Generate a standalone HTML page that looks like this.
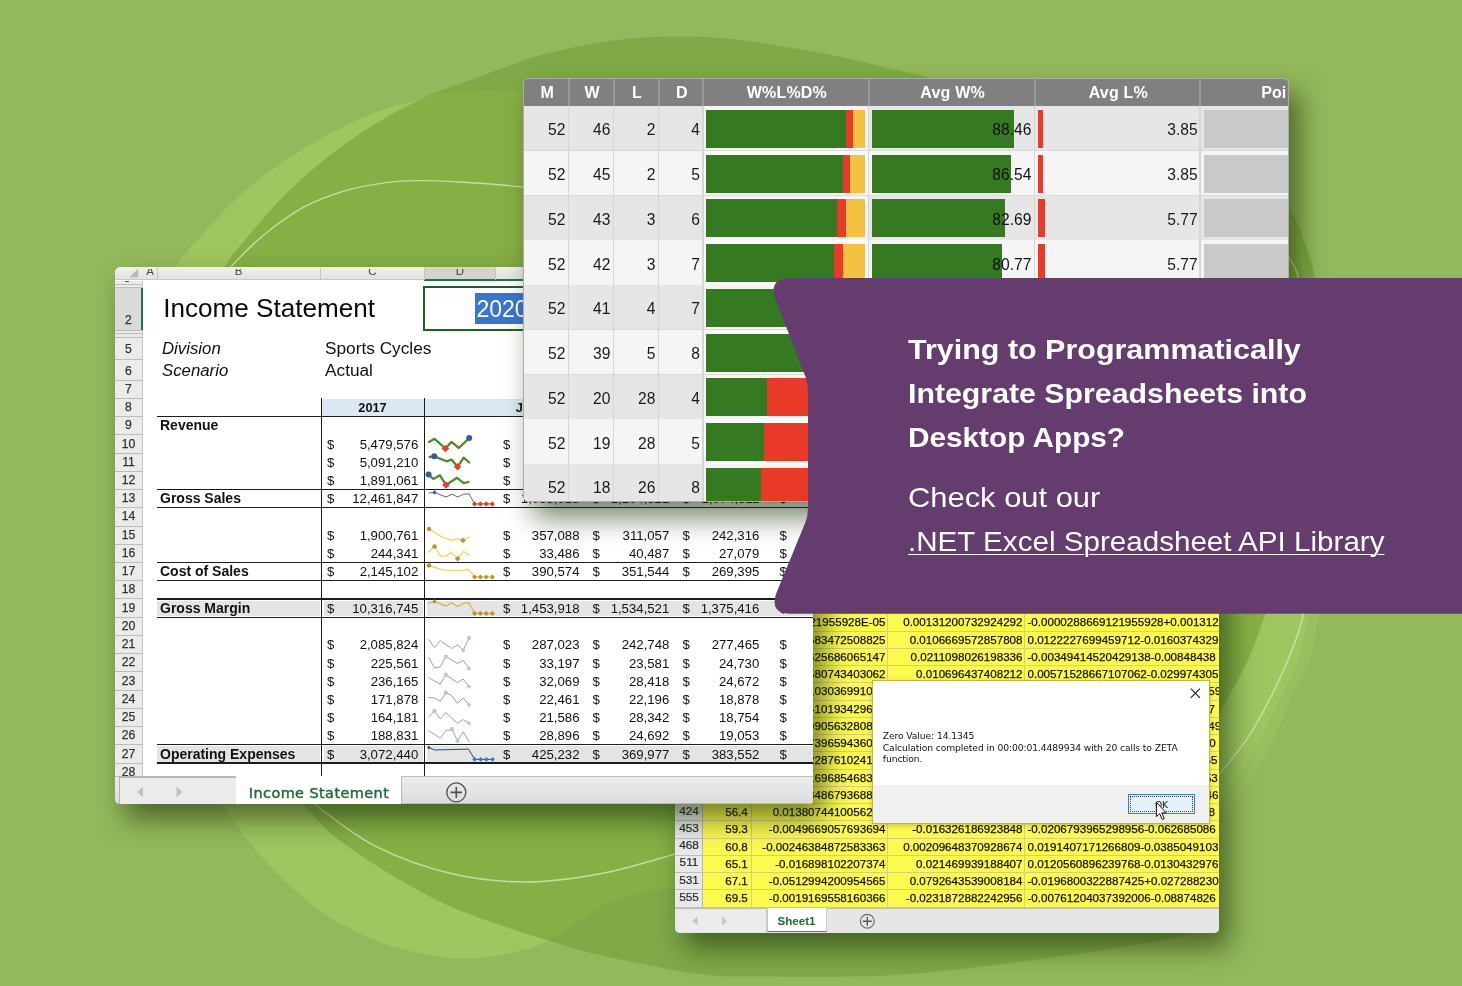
<!DOCTYPE html><html lang="en"><head><meta charset="utf-8"><title>Spreadsheet API promo</title><style>
*{box-sizing:border-box;margin:0;padding:0}
html,body{width:1462px;height:986px;overflow:hidden;background:#94b95c}
body{position:relative;font-family:"Liberation Sans",sans-serif;color:#000}
.abs{position:absolute}
.win{position:absolute;overflow:hidden}
.page{position:absolute;width:1462px;height:986px}
.sh{position:absolute;border-radius:5px;box-shadow:10px 15px 28px 0 rgba(25,45,5,.6)}
.t{position:absolute;white-space:nowrap;line-height:1}
.r{text-align:right}
.c{text-align:center}
.b{font-weight:bold}
.i{font-style:italic}
.hl{position:absolute;background:#1c1c1c;height:1.25px}
.vl{position:absolute;background:#1c1c1c;width:1.25px}
</style></head><body>
<svg class="abs" style="left:0;top:0" width="1462" height="986" viewBox="0 0 1462 986">
<rect width="1462" height="986" fill="#94b95c"/>
<defs><clipPath id="cE"><path d="M304,805 C299.2,799.2 285.7,787.5 275,770 C264.3,752.5 252.5,728.3 240,700 C227.5,671.7 209.5,633.3 200,600 C190.5,566.7 185.5,533.3 183,500 C180.5,466.7 182.2,430.0 185,400 C187.8,370.0 193.2,342.4 200,320 C206.8,297.6 218.7,278.4 225.7,265.7 C232.7,253.0 235.8,251.7 242,244 C248.2,236.3 255.8,227.3 262.6,219.5 C269.4,211.7 276.2,204.0 283,197 C289.8,190.0 296.7,183.7 303.6,177.5 C310.5,171.3 317.4,165.5 324.2,160 C331.0,154.5 337.9,149.5 344.7,144.6 C351.5,139.7 358.4,134.7 365.2,130.3 C372.0,125.9 378.9,121.9 385.7,118 C392.5,114.1 399.3,110.3 406.2,106.7 C413.1,103.1 419.9,99.5 426.8,96.4 C433.7,93.3 439.1,91.3 447.3,88.2 C455.5,85.1 465.6,81.8 476,78 C486.4,74.2 498.5,69.5 510,65.5 C521.5,61.5 530.0,57.8 545,54 C560.0,50.2 581.8,45.3 600,42.5 C618.2,39.7 632.2,37.6 654,37 C675.8,36.4 701.5,36.0 731,39 C760.5,42.0 803.5,49.8 831,55 C858.5,60.2 879.3,66.2 896,70 C912.7,73.8 897.0,69.7 931,78 C965.0,86.3 1055.2,106.8 1100,120 C1144.8,133.2 1173.3,145.5 1200,157 C1226.7,168.5 1245.0,180.0 1260,189 C1275.0,198.0 1282.5,201.8 1290,211 C1297.5,220.2 1300.9,233.2 1305,244 C1309.1,254.8 1310.9,258.3 1314.7,276 C1318.5,293.7 1326.1,321.0 1328,350 C1329.9,379.0 1330.3,418.3 1326,450 C1321.7,481.7 1311.0,515.0 1302,540 C1293.0,565.0 1278.0,587.8 1272,600 C1266.0,612.2 1269.1,605.3 1265.8,613.4 C1262.5,621.5 1256.5,638.8 1252.4,648.7 C1248.3,658.6 1245.5,664.9 1241.4,673 C1237.3,681.1 1231.7,690.5 1228,697.4 C1224.3,704.3 1222.2,707.4 1219.5,714.5 C1216.8,721.6 1213.6,720.8 1212,740 C1210.4,759.2 1210.7,803.3 1210,830 C1209.3,856.7 1211.3,883.3 1208,900 C1204.7,916.7 1198.3,923.2 1190,930 C1181.7,936.8 1185.3,935.8 1158,941 C1130.7,946.2 1069.8,955.3 1026,961 C982.2,966.7 938.8,972.4 895,975 C851.2,977.6 795.5,976.7 763,976.5 C730.5,976.3 726.9,977.5 700,974 C673.1,970.5 626.7,961.1 601.5,955.5 C576.3,949.9 564.7,945.2 549,940.5 C533.3,935.8 523.7,932.9 507.4,927.3 C491.1,921.6 469.8,915.1 451,906.6 C432.2,898.1 413.3,887.8 394.5,876.5 C375.7,865.2 353.1,850.9 338,839 C322.9,827.1 309.7,810.7 304,805 Z"/></clipPath></defs>
<path d="M1330,560 C1328.2,568.9 1322.7,596.6 1319.3,613.4 C1315.9,630.2 1314.3,646.9 1309.6,660.9 C1304.9,674.9 1297.8,683.2 1291.3,697.4 C1284.8,711.6 1277.7,731.8 1270.6,746 C1263.5,760.2 1256.4,771.4 1248.7,782.7 C1241.0,794.0 1232.5,805.3 1224.4,814 C1216.3,822.7 1204.1,831.5 1200,835  L1200,600 L1300,560 Z" fill="#99bf5f"/>
<path d="M221.5,805 C217.1,798.3 205.2,782.5 195,765 C184.8,747.5 170.5,727.5 160,700 C149.5,672.5 137.8,636.7 132,600 C126.2,563.3 124.5,516.7 125,480 C125.5,443.3 130.5,408.3 135,380 C139.5,351.7 145.1,329.1 152,310 C158.9,290.9 168.2,278.0 176.4,265.7 C184.6,253.4 191.8,246.4 201,236 C210.2,225.6 221.5,212.9 231.8,203 C242.1,193.1 252.3,184.5 262.6,176.5 C272.9,168.5 283.1,161.7 293.4,155 C303.7,148.3 313.9,142.1 324.2,136.4 C334.5,130.7 344.8,125.6 355,121 C365.2,116.4 375.4,112.1 385.7,108.7 C395.9,105.3 409.5,102.5 416.5,100.5 C423.5,98.5 423.6,97.6 427.5,96.4 C431.4,95.2 431.2,94.0 440,93.2 C448.8,92.4 466.0,92.0 480,91.6 C494.0,91.2 454.0,90.9 524,91 C594.0,91.1 795.7,88.5 900,92 C1004.3,95.5 1091.7,98.7 1150,112 C1208.3,125.3 1226.2,153.9 1250,172 C1273.8,190.1 1283.3,203.2 1293,220.5 C1302.7,237.8 1303.6,254.4 1308.3,276 C1313.0,297.6 1318.7,321.0 1321,350 C1323.3,379.0 1323.0,415.0 1322,450 C1321.0,485.0 1317.3,532.8 1315,560 C1312.7,587.2 1311.3,596.6 1308.4,613.4 C1305.5,630.2 1302.1,646.9 1297.4,660.9 C1292.7,674.9 1287.3,683.2 1280.4,697.4 C1273.5,711.6 1263.3,732.2 1256,746 C1248.7,759.8 1242.4,770.7 1236.5,780 C1230.6,789.3 1228.5,792.8 1220.7,802 C1213.0,811.2 1226.8,823.7 1190,835 C1153.2,846.3 1065.0,862.5 1000,870 C935.0,877.5 854.5,876.9 800,880 C745.5,883.1 699.8,886.4 673,888.6 C646.2,890.9 650.9,890.5 639,893.5 C627.1,896.5 616.5,898.8 601.5,906.6 C586.5,914.4 564.7,932.7 549,940.5 C533.3,948.3 520.6,950.6 507.4,953.6 C494.2,956.6 482.6,958.2 470,958.5 C457.4,958.8 447.7,958.5 432,955.5 C416.3,952.5 394.8,948.1 376,940.5 C357.2,932.9 337.8,923.8 319,910 C300.2,896.2 279.2,875.5 263,858 C246.8,840.5 228.4,813.8 221.5,805 Z" fill="#9fc661"/>
<path d="M304,805 C299.2,799.2 285.7,787.5 275,770 C264.3,752.5 252.5,728.3 240,700 C227.5,671.7 209.5,633.3 200,600 C190.5,566.7 185.5,533.3 183,500 C180.5,466.7 182.2,430.0 185,400 C187.8,370.0 193.2,342.4 200,320 C206.8,297.6 218.7,278.4 225.7,265.7 C232.7,253.0 235.8,251.7 242,244 C248.2,236.3 255.8,227.3 262.6,219.5 C269.4,211.7 276.2,204.0 283,197 C289.8,190.0 296.7,183.7 303.6,177.5 C310.5,171.3 317.4,165.5 324.2,160 C331.0,154.5 337.9,149.5 344.7,144.6 C351.5,139.7 358.4,134.7 365.2,130.3 C372.0,125.9 378.9,121.9 385.7,118 C392.5,114.1 399.3,110.3 406.2,106.7 C413.1,103.1 419.9,99.5 426.8,96.4 C433.7,93.3 439.1,91.3 447.3,88.2 C455.5,85.1 465.6,81.8 476,78 C486.4,74.2 498.5,69.5 510,65.5 C521.5,61.5 530.0,57.8 545,54 C560.0,50.2 581.8,45.3 600,42.5 C618.2,39.7 632.2,37.6 654,37 C675.8,36.4 701.5,36.0 731,39 C760.5,42.0 803.5,49.8 831,55 C858.5,60.2 879.3,66.2 896,70 C912.7,73.8 897.0,69.7 931,78 C965.0,86.3 1055.2,106.8 1100,120 C1144.8,133.2 1173.3,145.5 1200,157 C1226.7,168.5 1245.0,180.0 1260,189 C1275.0,198.0 1282.5,201.8 1290,211 C1297.5,220.2 1300.9,233.2 1305,244 C1309.1,254.8 1310.9,258.3 1314.7,276 C1318.5,293.7 1326.1,321.0 1328,350 C1329.9,379.0 1330.3,418.3 1326,450 C1321.7,481.7 1311.0,515.0 1302,540 C1293.0,565.0 1278.0,587.8 1272,600 C1266.0,612.2 1269.1,605.3 1265.8,613.4 C1262.5,621.5 1256.5,638.8 1252.4,648.7 C1248.3,658.6 1245.5,664.9 1241.4,673 C1237.3,681.1 1231.7,690.5 1228,697.4 C1224.3,704.3 1222.2,707.4 1219.5,714.5 C1216.8,721.6 1213.6,720.8 1212,740 C1210.4,759.2 1210.7,803.3 1210,830 C1209.3,856.7 1211.3,883.3 1208,900 C1204.7,916.7 1198.3,923.2 1190,930 C1181.7,936.8 1185.3,935.8 1158,941 C1130.7,946.2 1069.8,955.3 1026,961 C982.2,966.7 938.8,972.4 895,975 C851.2,977.6 795.5,976.7 763,976.5 C730.5,976.3 726.9,977.5 700,974 C673.1,970.5 626.7,961.1 601.5,955.5 C576.3,949.9 564.7,945.2 549,940.5 C533.3,935.8 523.7,932.9 507.4,927.3 C491.1,921.6 469.8,915.1 451,906.6 C432.2,898.1 413.3,887.8 394.5,876.5 C375.7,865.2 353.1,850.9 338,839 C322.9,827.1 309.7,810.7 304,805 Z" fill="#80aa48"/>
<path d="M221.5,805 C217.1,798.3 205.2,782.5 195,765 C184.8,747.5 170.5,727.5 160,700 C149.5,672.5 137.8,636.7 132,600 C126.2,563.3 124.5,516.7 125,480 C125.5,443.3 130.5,408.3 135,380 C139.5,351.7 145.1,329.1 152,310 C158.9,290.9 168.2,278.0 176.4,265.7 C184.6,253.4 191.8,246.4 201,236 C210.2,225.6 221.5,212.9 231.8,203 C242.1,193.1 252.3,184.5 262.6,176.5 C272.9,168.5 283.1,161.7 293.4,155 C303.7,148.3 313.9,142.1 324.2,136.4 C334.5,130.7 344.8,125.6 355,121 C365.2,116.4 375.4,112.1 385.7,108.7 C395.9,105.3 409.5,102.5 416.5,100.5 C423.5,98.5 423.6,97.6 427.5,96.4 C431.4,95.2 431.2,94.0 440,93.2 C448.8,92.4 466.0,92.0 480,91.6 C494.0,91.2 454.0,90.9 524,91 C594.0,91.1 795.7,88.5 900,92 C1004.3,95.5 1091.7,98.7 1150,112 C1208.3,125.3 1226.2,153.9 1250,172 C1273.8,190.1 1283.3,203.2 1293,220.5 C1302.7,237.8 1303.6,254.4 1308.3,276 C1313.0,297.6 1318.7,321.0 1321,350 C1323.3,379.0 1323.0,415.0 1322,450 C1321.0,485.0 1317.3,532.8 1315,560 C1312.7,587.2 1311.3,596.6 1308.4,613.4 C1305.5,630.2 1302.1,646.9 1297.4,660.9 C1292.7,674.9 1287.3,683.2 1280.4,697.4 C1273.5,711.6 1263.3,732.2 1256,746 C1248.7,759.8 1242.4,770.7 1236.5,780 C1230.6,789.3 1228.5,792.8 1220.7,802 C1213.0,811.2 1226.8,823.7 1190,835 C1153.2,846.3 1065.0,862.5 1000,870 C935.0,877.5 854.5,876.9 800,880 C745.5,883.1 699.8,886.4 673,888.6 C646.2,890.9 650.9,890.5 639,893.5 C627.1,896.5 616.5,898.8 601.5,906.6 C586.5,914.4 564.7,932.7 549,940.5 C533.3,948.3 520.6,950.6 507.4,953.6 C494.2,956.6 482.6,958.2 470,958.5 C457.4,958.8 447.7,958.5 432,955.5 C416.3,952.5 394.8,948.1 376,940.5 C357.2,932.9 337.8,923.8 319,910 C300.2,896.2 279.2,875.5 263,858 C246.8,840.5 228.4,813.8 221.5,805 Z" fill="#86b046" clip-path="url(#cE)"/>
<path d="M215,285 C217.8,281.8 223.9,273.9 231.8,265.7 C239.7,257.5 250.6,245.8 262.6,236 C274.6,226.2 289.9,214.7 303.6,207.2 C317.3,199.7 331.0,194.9 344.7,190.8 C358.4,186.7 373.7,184.3 385.7,182.6 C397.7,180.9 404.1,180.7 416.5,180.6 C428.9,180.5 442.1,180.9 460,182 C477.9,183.1 510.7,185.8 524,187 C537.3,188.2 537.3,188.7 540,189 " fill="none" stroke="#dcebc6" stroke-width="1.4" opacity=".75"/>
<path d="M300,790 C302.6,792.5 302.9,795.6 315.5,805 C328.1,814.4 353.1,835.0 375.7,846.4 C398.3,857.8 425.9,867.6 451,873.5 C476.1,879.4 500.9,882.0 526,882 C551.1,882.0 577.0,878.0 601.5,873.5 C626.0,869.0 656.6,859.3 673,854.7 C689.4,850.1 695.5,847.5 700,846 " fill="none" stroke="#dcebc6" stroke-width="1.4" opacity=".75"/>
<path d="M1282,245 C1283.4,247.5 1287.5,254.6 1290.2,260 C1292.9,265.4 1294.7,262.5 1298.2,277.5 C1301.7,292.5 1308.2,321.2 1311,350 C1313.8,378.8 1315.2,415.0 1315,450 C1314.8,485.0 1311.9,532.8 1310,560 C1308.1,587.2 1306.4,598.6 1303.5,613.4 C1300.6,628.2 1297.6,635.5 1292.5,648.7 C1287.4,661.9 1280.3,677.9 1273,692.5 C1265.7,707.1 1257.6,722.8 1248.7,736.4 C1239.8,750.0 1226.8,765.1 1219.5,774 C1212.2,782.9 1207.4,787.3 1205,790 " fill="none" stroke="#dcebc6" stroke-width="1.4" opacity=".75"/>
</svg>
<div class="sh" style="left:675px;top:560px;width:543.5px;height:373px"></div>
<div class="win" style="left:675px;top:560px;width:543.5px;height:373px;border-radius:5px;background:#e9e9e9">
<div class="page" style="left:-675px;top:-560px">
<div class="abs" style="left:703px;top:560px;width:516px;height:348.5px;background:#fdfa4e;"></div>
<div class="abs" style="left:675px;top:560px;width:28px;height:347.5px;background:#e9e9e9;border-right:1px solid #b5b5b5"></div>
<div class="abs" style="left:703px;top:906.5px;width:516px;height:1px;background:#d4d07a;"></div>
<div class="abs" style="left:675px;top:906.5px;width:28px;height:1px;background:#bdbdbd;"></div>
<div class="t c" style="left:675.5px;top:891.91px;font-size:11.8px;width:27px;color:#2a2a2a;-webkit-text-stroke:0.2px #2a2a2a;">555</div>
<div class="t r" style="left:703px;top:892.38px;font-size:11.6px;width:44.8px;color:#111;-webkit-text-stroke:0.25px #111;">69.5</div>
<div class="t r" style="left:751px;top:892.38px;font-size:11.6px;width:134.5px;color:#111;-webkit-text-stroke:0.25px #111;">-0.0019169558160366</div>
<div class="t r" style="left:888px;top:892.38px;font-size:11.6px;width:134.5px;color:#111;-webkit-text-stroke:0.25px #111;">-0.0231872882242956</div>
<div class="t " style="left:1027.5px;top:892.38px;font-size:11.6px;color:#111;-webkit-text-stroke:0.25px #111;">-0.00761204037392006-0.08874826</div>
<div class="abs" style="left:703px;top:889.25px;width:516px;height:1px;background:#d4d07a;"></div>
<div class="abs" style="left:675px;top:889.25px;width:28px;height:1px;background:#bdbdbd;"></div>
<div class="t c" style="left:675.5px;top:874.66px;font-size:11.8px;width:27px;color:#2a2a2a;-webkit-text-stroke:0.2px #2a2a2a;">531</div>
<div class="t r" style="left:703px;top:875.13px;font-size:11.6px;width:44.8px;color:#111;-webkit-text-stroke:0.25px #111;">67.1</div>
<div class="t r" style="left:751px;top:875.13px;font-size:11.6px;width:134.5px;color:#111;-webkit-text-stroke:0.25px #111;">-0.0512994200954565</div>
<div class="t r" style="left:888px;top:875.13px;font-size:11.6px;width:134.5px;color:#111;-webkit-text-stroke:0.25px #111;">0.0792643539008184</div>
<div class="t " style="left:1027.5px;top:875.13px;font-size:11.6px;color:#111;-webkit-text-stroke:0.25px #111;">-0.0196800322887425+0.027288230</div>
<div class="abs" style="left:703px;top:872.0px;width:516px;height:1px;background:#d4d07a;"></div>
<div class="abs" style="left:675px;top:872.0px;width:28px;height:1px;background:#bdbdbd;"></div>
<div class="t c" style="left:675.5px;top:857.41px;font-size:11.8px;width:27px;color:#2a2a2a;-webkit-text-stroke:0.2px #2a2a2a;">511</div>
<div class="t r" style="left:703px;top:857.88px;font-size:11.6px;width:44.8px;color:#111;-webkit-text-stroke:0.25px #111;">65.1</div>
<div class="t r" style="left:751px;top:857.88px;font-size:11.6px;width:134.5px;color:#111;-webkit-text-stroke:0.25px #111;">-0.016898102207374</div>
<div class="t r" style="left:888px;top:857.88px;font-size:11.6px;width:134.5px;color:#111;-webkit-text-stroke:0.25px #111;">0.021469939188407</div>
<div class="t " style="left:1027.5px;top:857.88px;font-size:11.6px;color:#111;-webkit-text-stroke:0.25px #111;">0.0120560896239768-0.0130432976</div>
<div class="abs" style="left:703px;top:854.75px;width:516px;height:1px;background:#d4d07a;"></div>
<div class="abs" style="left:675px;top:854.75px;width:28px;height:1px;background:#bdbdbd;"></div>
<div class="t c" style="left:675.5px;top:840.16px;font-size:11.8px;width:27px;color:#2a2a2a;-webkit-text-stroke:0.2px #2a2a2a;">468</div>
<div class="t r" style="left:703px;top:840.63px;font-size:11.6px;width:44.8px;color:#111;-webkit-text-stroke:0.25px #111;">60.8</div>
<div class="t r" style="left:751px;top:840.63px;font-size:11.6px;width:134.5px;color:#111;-webkit-text-stroke:0.25px #111;">-0.00246384872583363</div>
<div class="t r" style="left:888px;top:840.63px;font-size:11.6px;width:134.5px;color:#111;-webkit-text-stroke:0.25px #111;">0.00209648370928674</div>
<div class="t " style="left:1027.5px;top:840.63px;font-size:11.6px;color:#111;-webkit-text-stroke:0.25px #111;">0.0191407171266809-0.0385049103</div>
<div class="abs" style="left:703px;top:837.5px;width:516px;height:1px;background:#d4d07a;"></div>
<div class="abs" style="left:675px;top:837.5px;width:28px;height:1px;background:#bdbdbd;"></div>
<div class="t c" style="left:675.5px;top:822.91px;font-size:11.8px;width:27px;color:#2a2a2a;-webkit-text-stroke:0.2px #2a2a2a;">453</div>
<div class="t r" style="left:703px;top:823.38px;font-size:11.6px;width:44.8px;color:#111;-webkit-text-stroke:0.25px #111;">59.3</div>
<div class="t r" style="left:751px;top:823.38px;font-size:11.6px;width:134.5px;color:#111;-webkit-text-stroke:0.25px #111;">-0.0049669057693694</div>
<div class="t r" style="left:888px;top:823.38px;font-size:11.6px;width:134.5px;color:#111;-webkit-text-stroke:0.25px #111;">-0.016326186923848</div>
<div class="t " style="left:1027.5px;top:823.38px;font-size:11.6px;color:#111;-webkit-text-stroke:0.25px #111;">-0.0206793965298956-0.062685086</div>
<div class="abs" style="left:703px;top:820.25px;width:516px;height:1px;background:#d4d07a;"></div>
<div class="abs" style="left:675px;top:820.25px;width:28px;height:1px;background:#bdbdbd;"></div>
<div class="t c" style="left:675.5px;top:805.66px;font-size:11.8px;width:27px;color:#2a2a2a;-webkit-text-stroke:0.2px #2a2a2a;">424</div>
<div class="t r" style="left:703px;top:806.13px;font-size:11.6px;width:44.8px;color:#111;-webkit-text-stroke:0.25px #111;">56.4</div>
<div class="t r" style="left:751px;top:806.13px;font-size:11.6px;width:134.5px;color:#111;-webkit-text-stroke:0.25px #111;">0.0138074410056271</div>
<div class="t r" style="left:888px;top:806.13px;font-size:11.6px;width:134.5px;color:#111;-webkit-text-stroke:0.25px #111;">-0.0158</div>
<div class="t " style="left:1027.5px;top:806.13px;font-size:11.6px;color:#111;-webkit-text-stroke:0.25px #111;">-0.0123660274811905-0.045687738</div>
<div class="abs" style="left:703px;top:803.0px;width:516px;height:1px;background:#d4d07a;"></div>
<div class="abs" style="left:675px;top:803.0px;width:28px;height:1px;background:#bdbdbd;"></div>
<div class="t c" style="left:675.5px;top:788.41px;font-size:11.8px;width:27px;color:#2a2a2a;-webkit-text-stroke:0.2px #2a2a2a;">402</div>
<div class="t r" style="left:703px;top:788.88px;font-size:11.6px;width:44.8px;color:#111;-webkit-text-stroke:0.25px #111;">54.9</div>
<div class="t r" style="left:751px;top:788.88px;font-size:11.6px;width:134.5px;color:#111;-webkit-text-stroke:0.25px #111;">-0.024848679368871</div>
<div class="t r" style="left:888px;top:788.88px;font-size:11.6px;width:134.5px;color:#111;-webkit-text-stroke:0.25px #111;">0.0187</div>
<div class="t " style="left:1027.5px;top:788.88px;font-size:11.6px;color:#111;-webkit-text-stroke:0.25px #111;">0.0214061782239041-0.0287710346</div>
<div class="abs" style="left:703px;top:785.75px;width:516px;height:1px;background:#d4d07a;"></div>
<div class="abs" style="left:675px;top:785.75px;width:28px;height:1px;background:#bdbdbd;"></div>
<div class="t c" style="left:675.5px;top:771.16px;font-size:11.8px;width:27px;color:#2a2a2a;-webkit-text-stroke:0.2px #2a2a2a;">377</div>
<div class="t r" style="left:703px;top:771.63px;font-size:11.6px;width:44.8px;color:#111;-webkit-text-stroke:0.25px #111;">52.3</div>
<div class="t r" style="left:751px;top:771.63px;font-size:11.6px;width:134.5px;color:#111;-webkit-text-stroke:0.25px #111;">0.035169685468352</div>
<div class="t r" style="left:888px;top:771.63px;font-size:11.6px;width:134.5px;color:#111;-webkit-text-stroke:0.25px #111;">-0.0092</div>
<div class="t " style="left:1027.5px;top:771.63px;font-size:11.6px;color:#111;-webkit-text-stroke:0.25px #111;">-0.0311752906614427+0.012630153</div>
<div class="abs" style="left:703px;top:768.5px;width:516px;height:1px;background:#d4d07a;"></div>
<div class="abs" style="left:675px;top:768.5px;width:28px;height:1px;background:#bdbdbd;"></div>
<div class="t c" style="left:675.5px;top:753.91px;font-size:11.8px;width:27px;color:#2a2a2a;-webkit-text-stroke:0.2px #2a2a2a;">356</div>
<div class="t r" style="left:703px;top:754.38px;font-size:11.6px;width:44.8px;color:#111;-webkit-text-stroke:0.25px #111;">50.1</div>
<div class="t r" style="left:751px;top:754.38px;font-size:11.6px;width:134.5px;color:#111;-webkit-text-stroke:0.25px #111;">-0.011228761024139</div>
<div class="t r" style="left:888px;top:754.38px;font-size:11.6px;width:134.5px;color:#111;-webkit-text-stroke:0.25px #111;">0.0314</div>
<div class="t " style="left:1027.5px;top:754.38px;font-size:11.6px;color:#111;-webkit-text-stroke:0.25px #111;">0.0187300942265118-0.0226507465</div>
<div class="abs" style="left:703px;top:751.25px;width:516px;height:1px;background:#d4d07a;"></div>
<div class="abs" style="left:675px;top:751.25px;width:28px;height:1px;background:#bdbdbd;"></div>
<div class="t c" style="left:675.5px;top:736.66px;font-size:11.8px;width:27px;color:#2a2a2a;-webkit-text-stroke:0.2px #2a2a2a;">331</div>
<div class="t r" style="left:703px;top:737.13px;font-size:11.6px;width:44.8px;color:#111;-webkit-text-stroke:0.25px #111;">47.6</div>
<div class="t r" style="left:751px;top:737.13px;font-size:11.6px;width:134.5px;color:#111;-webkit-text-stroke:0.25px #111;">0.020739659436047</div>
<div class="t r" style="left:888px;top:737.13px;font-size:11.6px;width:134.5px;color:#111;-webkit-text-stroke:0.25px #111;">-0.0221</div>
<div class="t " style="left:1027.5px;top:737.13px;font-size:11.6px;color:#111;-webkit-text-stroke:0.25px #111;">-0.0098265512040073-0.051206220</div>
<div class="abs" style="left:703px;top:734.0px;width:516px;height:1px;background:#d4d07a;"></div>
<div class="abs" style="left:675px;top:734.0px;width:28px;height:1px;background:#bdbdbd;"></div>
<div class="t c" style="left:675.5px;top:719.41px;font-size:11.8px;width:27px;color:#2a2a2a;-webkit-text-stroke:0.2px #2a2a2a;">304</div>
<div class="t r" style="left:703px;top:719.88px;font-size:11.6px;width:44.8px;color:#111;-webkit-text-stroke:0.25px #111;">45.2</div>
<div class="t r" style="left:751px;top:719.88px;font-size:11.6px;width:134.5px;color:#111;-webkit-text-stroke:0.25px #111;">-0.003990563280816</div>
<div class="t r" style="left:888px;top:719.88px;font-size:11.6px;width:134.5px;color:#111;-webkit-text-stroke:0.25px #111;">0.0109</div>
<div class="t " style="left:1027.5px;top:719.88px;font-size:11.6px;color:#111;-webkit-text-stroke:0.25px #111;">0.0342187650913377+0.0144902749</div>
<div class="abs" style="left:703px;top:716.75px;width:516px;height:1px;background:#d4d07a;"></div>
<div class="abs" style="left:675px;top:716.75px;width:28px;height:1px;background:#bdbdbd;"></div>
<div class="t c" style="left:675.5px;top:702.16px;font-size:11.8px;width:27px;color:#2a2a2a;-webkit-text-stroke:0.2px #2a2a2a;">283</div>
<div class="t r" style="left:703px;top:702.63px;font-size:11.6px;width:44.8px;color:#111;-webkit-text-stroke:0.25px #111;">42.7</div>
<div class="t r" style="left:751px;top:702.63px;font-size:11.6px;width:134.5px;color:#111;-webkit-text-stroke:0.25px #111;">0.018410193429622</div>
<div class="t r" style="left:888px;top:702.63px;font-size:11.6px;width:134.5px;color:#111;-webkit-text-stroke:0.25px #111;">-0.0276</div>
<div class="t " style="left:1027.5px;top:702.63px;font-size:11.6px;color:#111;-webkit-text-stroke:0.25px #111;">-0.0155403291187226-0.033370937</div>
<div class="abs" style="left:703px;top:699.5px;width:516px;height:1px;background:#d4d07a;"></div>
<div class="abs" style="left:675px;top:699.5px;width:28px;height:1px;background:#bdbdbd;"></div>
<div class="t c" style="left:675.5px;top:684.91px;font-size:11.8px;width:27px;color:#2a2a2a;-webkit-text-stroke:0.2px #2a2a2a;">260</div>
<div class="t r" style="left:703px;top:685.38px;font-size:11.6px;width:44.8px;color:#111;-webkit-text-stroke:0.25px #111;">40.3</div>
<div class="t r" style="left:751px;top:685.38px;font-size:11.6px;width:134.5px;color:#111;-webkit-text-stroke:0.25px #111;">-0.009103036991074</div>
<div class="t r" style="left:888px;top:685.38px;font-size:11.6px;width:134.5px;color:#111;-webkit-text-stroke:0.25px #111;">0.0133</div>
<div class="t " style="left:1027.5px;top:685.38px;font-size:11.6px;color:#111;-webkit-text-stroke:0.25px #111;">0.0061840293315528+0.0426915559</div>
<div class="abs" style="left:703px;top:682.25px;width:516px;height:1px;background:#d4d07a;"></div>
<div class="abs" style="left:675px;top:682.25px;width:28px;height:1px;background:#bdbdbd;"></div>
<div class="t c" style="left:675.5px;top:667.66px;font-size:11.8px;width:27px;color:#2a2a2a;-webkit-text-stroke:0.2px #2a2a2a;">238</div>
<div class="t r" style="left:703px;top:668.13px;font-size:11.6px;width:44.8px;color:#111;-webkit-text-stroke:0.25px #111;">37.9</div>
<div class="t r" style="left:751px;top:668.13px;font-size:11.6px;width:134.5px;color:#111;-webkit-text-stroke:0.25px #111;">0.0212580743403062</div>
<div class="t r" style="left:888px;top:668.13px;font-size:11.6px;width:134.5px;color:#111;-webkit-text-stroke:0.25px #111;">0.010696437408212</div>
<div class="t " style="left:1027.5px;top:668.13px;font-size:11.6px;color:#111;-webkit-text-stroke:0.25px #111;">0.00571528667107062-0.029974305</div>
<div class="abs" style="left:703px;top:665.0px;width:516px;height:1px;background:#d4d07a;"></div>
<div class="abs" style="left:675px;top:665.0px;width:28px;height:1px;background:#bdbdbd;"></div>
<div class="t c" style="left:675.5px;top:650.41px;font-size:11.8px;width:27px;color:#2a2a2a;-webkit-text-stroke:0.2px #2a2a2a;">215</div>
<div class="t r" style="left:703px;top:650.88px;font-size:11.6px;width:44.8px;color:#111;-webkit-text-stroke:0.25px #111;">35.6</div>
<div class="t r" style="left:751px;top:650.88px;font-size:11.6px;width:134.5px;color:#111;-webkit-text-stroke:0.25px #111;">-0.0177625686065147</div>
<div class="t r" style="left:888px;top:650.88px;font-size:11.6px;width:134.5px;color:#111;-webkit-text-stroke:0.25px #111;">0.0211098026198336</div>
<div class="t " style="left:1027.5px;top:650.88px;font-size:11.6px;color:#111;-webkit-text-stroke:0.25px #111;">-0.00349414520429138-0.00848438</div>
<div class="abs" style="left:703px;top:647.75px;width:516px;height:1px;background:#d4d07a;"></div>
<div class="abs" style="left:675px;top:647.75px;width:28px;height:1px;background:#bdbdbd;"></div>
<div class="t c" style="left:675.5px;top:633.16px;font-size:11.8px;width:27px;color:#2a2a2a;-webkit-text-stroke:0.2px #2a2a2a;">190</div>
<div class="t r" style="left:703px;top:633.63px;font-size:11.6px;width:44.8px;color:#111;-webkit-text-stroke:0.25px #111;">33.1</div>
<div class="t r" style="left:751px;top:633.63px;font-size:11.6px;width:134.5px;color:#111;-webkit-text-stroke:0.25px #111;">0.0093583472508825</div>
<div class="t r" style="left:888px;top:633.63px;font-size:11.6px;width:134.5px;color:#111;-webkit-text-stroke:0.25px #111;">0.0106669572857808</div>
<div class="t " style="left:1027.5px;top:633.63px;font-size:11.6px;color:#111;-webkit-text-stroke:0.25px #111;">0.0122227699459712-0.0160374329</div>
<div class="abs" style="left:703px;top:630.5px;width:516px;height:1px;background:#d4d07a;"></div>
<div class="abs" style="left:675px;top:630.5px;width:28px;height:1px;background:#bdbdbd;"></div>
<div class="t c" style="left:675.5px;top:615.91px;font-size:11.8px;width:27px;color:#2a2a2a;-webkit-text-stroke:0.2px #2a2a2a;">167</div>
<div class="t r" style="left:703px;top:616.38px;font-size:11.6px;width:44.8px;color:#111;-webkit-text-stroke:0.25px #111;">30.9</div>
<div class="t r" style="left:751px;top:616.38px;font-size:11.6px;width:134.5px;color:#111;-webkit-text-stroke:0.25px #111;">-7.21955928E-05</div>
<div class="t r" style="left:888px;top:616.38px;font-size:11.6px;width:134.5px;color:#111;-webkit-text-stroke:0.25px #111;">0.00131200732924292</div>
<div class="t " style="left:1027.5px;top:616.38px;font-size:11.6px;color:#111;-webkit-text-stroke:0.25px #111;">-0.0000288669121955928+0.001312</div>
<div class="abs" style="left:703px;top:613.25px;width:516px;height:1px;background:#d4d07a;"></div>
<div class="abs" style="left:675px;top:613.25px;width:28px;height:1px;background:#bdbdbd;"></div>
<div class="t c" style="left:675.5px;top:598.66px;font-size:11.8px;width:27px;color:#2a2a2a;-webkit-text-stroke:0.2px #2a2a2a;">146</div>
<div class="t r" style="left:703px;top:599.13px;font-size:11.6px;width:44.8px;color:#111;-webkit-text-stroke:0.25px #111;">28.4</div>
<div class="t r" style="left:751px;top:599.13px;font-size:11.6px;width:134.5px;color:#111;-webkit-text-stroke:0.25px #111;">0.0123</div>
<div class="t r" style="left:888px;top:599.13px;font-size:11.6px;width:134.5px;color:#111;-webkit-text-stroke:0.25px #111;">0.0045</div>
<div class="t " style="left:1027.5px;top:599.13px;font-size:11.6px;color:#111;-webkit-text-stroke:0.25px #111;">0.0067-0.0123</div>
<div class="abs" style="left:703px;top:596.0px;width:516px;height:1px;background:#d4d07a;"></div>
<div class="abs" style="left:675px;top:596.0px;width:28px;height:1px;background:#bdbdbd;"></div>
<div class="t c" style="left:675.5px;top:581.41px;font-size:11.8px;width:27px;color:#2a2a2a;-webkit-text-stroke:0.2px #2a2a2a;">124</div>
<div class="t r" style="left:703px;top:581.88px;font-size:11.6px;width:44.8px;color:#111;-webkit-text-stroke:0.25px #111;">26.0</div>
<div class="t r" style="left:751px;top:581.88px;font-size:11.6px;width:134.5px;color:#111;-webkit-text-stroke:0.25px #111;">0.0123</div>
<div class="t r" style="left:888px;top:581.88px;font-size:11.6px;width:134.5px;color:#111;-webkit-text-stroke:0.25px #111;">0.0045</div>
<div class="t " style="left:1027.5px;top:581.88px;font-size:11.6px;color:#111;-webkit-text-stroke:0.25px #111;">0.0067-0.0123</div>
<div class="abs" style="left:750.5px;top:560px;width:1px;height:347px;background:#d4d07a;"></div>
<div class="abs" style="left:887.0px;top:560px;width:1px;height:347px;background:#d4d07a;"></div>
<div class="abs" style="left:1023.8px;top:560px;width:1px;height:347px;background:#d4d07a;"></div>
<div class="abs" style="left:675px;top:908px;width:544px;height:26px;background:#e6e6e6;border-top:1px solid #bdbdbd"></div>
<div class="abs" style="left:678px;top:910px;width:88.5px;height:22px;background:#ececec;border-right:1px solid #c8c8c8"></div>
<div class="abs" style="left:766.5px;top:908px;width:60px;height:23.6px;background:#fff;border-bottom:1.3px solid #4d8462;border-left:1px solid #c8c8c8;border-right:1px solid #c8c8c8"></div>
<div class="t c b" style="left:766.5px;top:915.38px;font-size:11.6px;width:60px;color:#1e6b3a;">Sheet1</div>
<svg class="abs" style="left:675px;top:907px" width="544" height="26" viewBox="675 907 544 26"><path d="M697.5 916.5 L692.5 921 L697.5 925.5Z" fill="#c4c4c4"/><path d="M722 916.5 L727 921 L722 925.5Z" fill="#c4c4c4"/><circle cx="867.3" cy="921.3" r="6.9" fill="none" stroke="#6a6a6a" stroke-width="1.2"/><path d="M862.8 921.3H871.8M867.3 916.8V925.8" stroke="#5a5a5a" stroke-width="1.4"/></svg>
<div class="abs" style="left:872.7px;top:680.6px;width:336.5999999999999px;height:142.39999999999998px;background:#fff;box-shadow:0 0 0 1px rgba(190,180,60,.9),0 2px 6px rgba(0,0,0,.25)"></div>
<div class="abs" style="left:872.7px;top:785.2px;width:336.5999999999999px;height:37.799999999999955px;background:#f0f0f0;"></div>
<div class="t " style="left:882.8px;top:731.01px;font-size:9.2px;color:#111;font-family:'DejaVu Sans','Liberation Sans',sans-serif;letter-spacing:-0.1px">Zero Value: 14.1345</div>
<div class="t " style="left:882.8px;top:742.71px;font-size:9.2px;color:#111;font-family:'DejaVu Sans','Liberation Sans',sans-serif;letter-spacing:-0.1px">Calculation completed in 00:00:01.4489934 with 20 calls to ZETA</div>
<div class="t " style="left:882.8px;top:754.31px;font-size:9.2px;color:#111;font-family:'DejaVu Sans','Liberation Sans',sans-serif;letter-spacing:-0.1px">function.</div>
<div class="abs" style="left:1128.2px;top:794.1px;width:66.6px;height:19.6px;background:#e5f1fb;border:1.4px solid #2b82d6"></div>
<div class="abs" style="left:1130.2px;top:796.2px;width:62.6px;height:15.4px;border:1px dotted #444"></div>
<div class="t c" style="left:1128.3px;top:799.81px;font-size:9.2px;width:66.3px;color:#111;font-family:'DejaVu Sans','Liberation Sans',sans-serif;letter-spacing:-0.1px">OK</div>
<svg class="abs" style="left:1150px;top:685px" width="60" height="140" viewBox="1150 685 60 140"><path d="M1190.8 688.7 L1200 697.9 M1200 688.7 L1190.8 697.9" stroke="#222" stroke-width="1.15" fill="none"/><path d="M1156.4 802.2 L1156.4 816.6 L1159.7 813.6 L1162.2 819.5 L1164.3 818.6 L1161.8 812.9 L1166.2 812.9 Z" fill="#fff" stroke="#111" stroke-width="1"/></svg>
</div></div>
<div class="sh" style="left:115px;top:266.6px;width:698.2px;height:537.0px"></div>
<div class="win" style="left:115px;top:266.6px;width:698.2px;height:537.0px;border-radius:6px 4px 4px 5px;background:#fff">
<div class="page" style="left:-115px;top:-266.6px">
<div class="abs" style="left:115px;top:266px;width:700px;height:14.3px;background:linear-gradient(#f1f1f1,#e2e2e2);border-bottom:1px solid #c9c9c9"></div>
<div class="abs" style="left:424.3px;top:266px;width:71.5px;height:14.8px;background:#d3d3d3;"></div>
<div class="abs" style="left:424.3px;top:279.3px;width:400px;height:1.8px;background:#217346;"></div>
<div class="abs" style="left:157.0px;top:268px;width:1px;height:12px;background:#c4c4c4;"></div>
<div class="abs" style="left:320.0px;top:268px;width:1px;height:12px;background:#c4c4c4;"></div>
<div class="abs" style="left:423.8px;top:268px;width:1px;height:12px;background:#c4c4c4;"></div>
<div class="abs" style="left:495.3px;top:268px;width:1px;height:12px;background:#c4c4c4;"></div>
<div class="abs" style="left:115px;top:268.6px;width:700px;height:11px;overflow:hidden">
<div class="t c" style="left:25px;top:-2.73px;font-size:11.5px;width:20px;color:#444;">A</div>
<div class="t c" style="left:113.5px;top:-2.73px;font-size:11.5px;width:20px;color:#444;">B</div>
<div class="t c" style="left:247.5px;top:-2.73px;font-size:11.5px;width:20px;color:#444;">C</div>
<div class="t c" style="left:335px;top:-2.73px;font-size:11.5px;width:20px;color:#444;">D</div>
</div>
<div class="abs" style="left:115px;top:280.5px;width:27.5px;height:496px;background:#ebebeb;border-right:1px solid #c6c6c6"></div>
<svg class="abs" style="left:115px;top:266px" width="28" height="15" viewBox="115 266 28 15"><path d="M138.3 268.5 V277.3 H129.5Z" fill="#b9b9b9"/></svg>
<div class="abs" style="left:115px;top:287.8px;width:27.5px;height:42px;background:#dadada;border-right:2px solid #217346"></div>
<div class="abs" style="left:115px;top:283.5px;width:27.5px;height:1px;background:#bdbdbd;"></div>
<div class="abs" style="left:115px;top:286.8px;width:27.5px;height:1px;background:#bdbdbd;"></div>
<div class="abs" style="left:115px;top:329.8px;width:27.5px;height:1px;background:#bdbdbd;"></div>
<div class="abs" style="left:115px;top:333.3px;width:27.5px;height:1px;background:#bdbdbd;"></div>
<div class="abs" style="left:115px;top:336.8px;width:27.5px;height:1px;background:#bdbdbd;"></div>
<div class="abs" style="left:125px;top:281.2px;width:4px;height:1px;background:#555;"></div>
<div class="t c" style="left:115px;top:314.17px;font-size:12.2px;width:27px;color:#333;-webkit-text-stroke:0.25px #333;">2</div>
<div class="t c" style="left:115px;top:343.17px;font-size:12.2px;width:27px;color:#333;-webkit-text-stroke:0.25px #333;">5</div>
<div class="t c" style="left:115px;top:364.77px;font-size:12.2px;width:27px;color:#333;-webkit-text-stroke:0.25px #333;">6</div>
<div class="abs" style="left:115px;top:358.8px;width:27.5px;height:1px;background:#bdbdbd;"></div>
<div class="abs" style="left:115px;top:380.2px;width:27.5px;height:1px;background:#bdbdbd;"></div>
<div class="t c" style="left:115px;top:382.84px;font-size:12.2px;width:27px;color:#333;-webkit-text-stroke:0.25px #333;">7</div>
<div class="abs" style="left:115px;top:397.87px;width:27.5px;height:1px;background:#bdbdbd;"></div>
<div class="t c" style="left:115px;top:401.07px;font-size:12.2px;width:27px;color:#333;-webkit-text-stroke:0.25px #333;">8</div>
<div class="abs" style="left:115px;top:416.1px;width:27.5px;height:1px;background:#bdbdbd;"></div>
<div class="t c" style="left:115px;top:419.31px;font-size:12.2px;width:27px;color:#333;-webkit-text-stroke:0.25px #333;">9</div>
<div class="abs" style="left:115px;top:434.34px;width:27.5px;height:1px;background:#bdbdbd;"></div>
<div class="t c" style="left:115px;top:437.54px;font-size:12.2px;width:27px;color:#333;-webkit-text-stroke:0.25px #333;">10</div>
<div class="abs" style="left:115px;top:452.57px;width:27.5px;height:1px;background:#bdbdbd;"></div>
<div class="t c" style="left:115px;top:455.78px;font-size:12.2px;width:27px;color:#333;-webkit-text-stroke:0.25px #333;">11</div>
<div class="abs" style="left:115px;top:470.81px;width:27.5px;height:1px;background:#bdbdbd;"></div>
<div class="t c" style="left:115px;top:474.01px;font-size:12.2px;width:27px;color:#333;-webkit-text-stroke:0.25px #333;">12</div>
<div class="abs" style="left:115px;top:489.04px;width:27.5px;height:1px;background:#bdbdbd;"></div>
<div class="t c" style="left:115px;top:492.25px;font-size:12.2px;width:27px;color:#333;-webkit-text-stroke:0.25px #333;">13</div>
<div class="abs" style="left:115px;top:507.28px;width:27.5px;height:1px;background:#bdbdbd;"></div>
<div class="t c" style="left:115px;top:510.48px;font-size:12.2px;width:27px;color:#333;-webkit-text-stroke:0.25px #333;">14</div>
<div class="abs" style="left:115px;top:525.51px;width:27.5px;height:1px;background:#bdbdbd;"></div>
<div class="t c" style="left:115px;top:528.72px;font-size:12.2px;width:27px;color:#333;-webkit-text-stroke:0.25px #333;">15</div>
<div class="abs" style="left:115px;top:543.75px;width:27.5px;height:1px;background:#bdbdbd;"></div>
<div class="t c" style="left:115px;top:546.95px;font-size:12.2px;width:27px;color:#333;-webkit-text-stroke:0.25px #333;">16</div>
<div class="abs" style="left:115px;top:561.98px;width:27.5px;height:1px;background:#bdbdbd;"></div>
<div class="t c" style="left:115px;top:565.19px;font-size:12.2px;width:27px;color:#333;-webkit-text-stroke:0.25px #333;">17</div>
<div class="abs" style="left:115px;top:580.22px;width:27.5px;height:1px;background:#bdbdbd;"></div>
<div class="t c" style="left:115px;top:583.42px;font-size:12.2px;width:27px;color:#333;-webkit-text-stroke:0.25px #333;">18</div>
<div class="abs" style="left:115px;top:598.45px;width:27.5px;height:1px;background:#bdbdbd;"></div>
<div class="t c" style="left:115px;top:601.66px;font-size:12.2px;width:27px;color:#333;-webkit-text-stroke:0.25px #333;">19</div>
<div class="abs" style="left:115px;top:616.68px;width:27.5px;height:1px;background:#bdbdbd;"></div>
<div class="t c" style="left:115px;top:619.89px;font-size:12.2px;width:27px;color:#333;-webkit-text-stroke:0.25px #333;">20</div>
<div class="abs" style="left:115px;top:634.92px;width:27.5px;height:1px;background:#bdbdbd;"></div>
<div class="t c" style="left:115px;top:638.13px;font-size:12.2px;width:27px;color:#333;-webkit-text-stroke:0.25px #333;">21</div>
<div class="abs" style="left:115px;top:653.15px;width:27.5px;height:1px;background:#bdbdbd;"></div>
<div class="t c" style="left:115px;top:656.36px;font-size:12.2px;width:27px;color:#333;-webkit-text-stroke:0.25px #333;">22</div>
<div class="abs" style="left:115px;top:671.39px;width:27.5px;height:1px;background:#bdbdbd;"></div>
<div class="t c" style="left:115px;top:674.6px;font-size:12.2px;width:27px;color:#333;-webkit-text-stroke:0.25px #333;">23</div>
<div class="abs" style="left:115px;top:689.62px;width:27.5px;height:1px;background:#bdbdbd;"></div>
<div class="t c" style="left:115px;top:692.83px;font-size:12.2px;width:27px;color:#333;-webkit-text-stroke:0.25px #333;">24</div>
<div class="abs" style="left:115px;top:707.86px;width:27.5px;height:1px;background:#bdbdbd;"></div>
<div class="t c" style="left:115px;top:711.07px;font-size:12.2px;width:27px;color:#333;-webkit-text-stroke:0.25px #333;">25</div>
<div class="abs" style="left:115px;top:726.1px;width:27.5px;height:1px;background:#bdbdbd;"></div>
<div class="t c" style="left:115px;top:729.3px;font-size:12.2px;width:27px;color:#333;-webkit-text-stroke:0.25px #333;">26</div>
<div class="abs" style="left:115px;top:744.33px;width:27.5px;height:1px;background:#bdbdbd;"></div>
<div class="t c" style="left:115px;top:747.54px;font-size:12.2px;width:27px;color:#333;-webkit-text-stroke:0.25px #333;">27</div>
<div class="abs" style="left:115px;top:762.57px;width:27.5px;height:1px;background:#bdbdbd;"></div>
<div class="t c" style="left:115px;top:765.77px;font-size:12.2px;width:27px;color:#333;-webkit-text-stroke:0.25px #333;">28</div>
<div class="abs" style="left:115px;top:780.8px;width:27.5px;height:1px;background:#bdbdbd;"></div>
<div class="t " style="left:163.2px;top:295.21px;font-size:26.1px;color:#0a0a0a;">Income Statement</div>
<div class="abs" style="left:423.2px;top:286.3px;width:400px;height:44.8px;border:2px solid #1f5f22;background:#fff"></div>
<div class="abs" style="left:475px;top:293.4px;width:340px;height:30.2px;background:#3a76ce;"></div>
<div class="t " style="left:476.5px;top:297.73px;font-size:23px;color:#fff;">2020</div>
<div class="t i" style="left:162px;top:341.18px;font-size:16.8px;color:#111;">Division</div>
<div class="t i" style="left:162px;top:363.08px;font-size:16.8px;color:#111;">Scenario</div>
<div class="t " style="left:325px;top:339.8px;font-size:17.25px;color:#111;">Sports Cycles</div>
<div class="t " style="left:325px;top:361.7px;font-size:17.25px;color:#111;">Actual</div>
<div class="abs" style="left:322px;top:398.6px;width:492px;height:17.3px;background:#dce8f3;"></div>
<div class="t c b" style="left:321px;top:401.76px;font-size:12.8px;width:103px;color:#111;">2017</div>
<div class="t b" style="left:515.8px;top:401.76px;font-size:12.8px;color:#111;">Jan</div>
<div class="abs" style="left:157px;top:600.55px;width:163px;height:15.6px;background:#e4e4e4;"></div>
<div class="abs" style="left:323.5px;top:600.55px;width:99.5px;height:15.6px;background:#e4e4e4;"></div>
<div class="abs" style="left:427px;top:600.55px;width:387px;height:15.6px;background:#e4e4e4;"></div>
<div class="abs" style="left:157px;top:746.43px;width:163px;height:15.6px;background:#e4e4e4;"></div>
<div class="abs" style="left:323.5px;top:746.43px;width:99.5px;height:15.6px;background:#e4e4e4;"></div>
<div class="abs" style="left:427px;top:746.43px;width:387px;height:15.6px;background:#e4e4e4;"></div>
<div class="hl" style="left:157px;top:416.0px;width:657px"></div>
<div class="hl" style="left:157px;top:488.94px;width:657px"></div>
<div class="hl" style="left:157px;top:507.18px;width:657px"></div>
<div class="hl" style="left:157px;top:561.88px;width:657px"></div>
<div class="hl" style="left:157px;top:580.12px;width:657px"></div>
<div class="hl" style="left:157px;top:598.35px;width:657px"></div>
<div class="hl" style="left:157px;top:616.58px;width:657px"></div>
<div class="hl" style="left:157px;top:744.23px;width:657px"></div>
<div class="hl" style="left:157px;top:762.47px;width:657px"></div>
<div class="vl" style="left:320.7px;top:398px;height:378px"></div>
<div class="vl" style="left:424px;top:398px;height:378px"></div>
<div class="t b" style="left:160px;top:418.48px;font-size:14px;color:#111;">Revenue</div>
<div class="t b" style="left:160px;top:491.42px;font-size:14px;color:#111;">Gross Sales</div>
<div class="t b" style="left:160px;top:564.36px;font-size:14px;color:#111;">Cost of Sales</div>
<div class="t b" style="left:160px;top:600.83px;font-size:14px;color:#111;">Gross Margin</div>
<div class="t b" style="left:160px;top:746.71px;font-size:14px;color:#111;">Operating Expenses</div>
<div class="t " style="left:327px;top:437.7px;font-size:13.2px;color:#111;">$</div>
<div class="t r" style="left:318px;top:437.7px;font-size:13.2px;width:100.3px;color:#111;">5,479,576</div>
<div class="t " style="left:327px;top:455.93px;font-size:13.2px;color:#111;">$</div>
<div class="t r" style="left:318px;top:455.93px;font-size:13.2px;width:100.3px;color:#111;">5,091,210</div>
<div class="t " style="left:327px;top:474.17px;font-size:13.2px;color:#111;">$</div>
<div class="t r" style="left:318px;top:474.17px;font-size:13.2px;width:100.3px;color:#111;">1,891,061</div>
<div class="t " style="left:327px;top:492.4px;font-size:13.2px;color:#111;">$</div>
<div class="t r" style="left:318px;top:492.4px;font-size:13.2px;width:100.3px;color:#111;">12,461,847</div>
<div class="t " style="left:327px;top:528.87px;font-size:13.2px;color:#111;">$</div>
<div class="t r" style="left:318px;top:528.87px;font-size:13.2px;width:100.3px;color:#111;">1,900,761</div>
<div class="t " style="left:327px;top:547.11px;font-size:13.2px;color:#111;">$</div>
<div class="t r" style="left:318px;top:547.11px;font-size:13.2px;width:100.3px;color:#111;">244,341</div>
<div class="t " style="left:327px;top:565.34px;font-size:13.2px;color:#111;">$</div>
<div class="t r" style="left:318px;top:565.34px;font-size:13.2px;width:100.3px;color:#111;">2,145,102</div>
<div class="t " style="left:327px;top:601.81px;font-size:13.2px;color:#111;">$</div>
<div class="t r" style="left:318px;top:601.81px;font-size:13.2px;width:100.3px;color:#111;">10,316,745</div>
<div class="t " style="left:327px;top:638.28px;font-size:13.2px;color:#111;">$</div>
<div class="t r" style="left:318px;top:638.28px;font-size:13.2px;width:100.3px;color:#111;">2,085,824</div>
<div class="t " style="left:327px;top:656.52px;font-size:13.2px;color:#111;">$</div>
<div class="t r" style="left:318px;top:656.52px;font-size:13.2px;width:100.3px;color:#111;">225,561</div>
<div class="t " style="left:327px;top:674.75px;font-size:13.2px;color:#111;">$</div>
<div class="t r" style="left:318px;top:674.75px;font-size:13.2px;width:100.3px;color:#111;">236,165</div>
<div class="t " style="left:327px;top:692.99px;font-size:13.2px;color:#111;">$</div>
<div class="t r" style="left:318px;top:692.99px;font-size:13.2px;width:100.3px;color:#111;">171,878</div>
<div class="t " style="left:327px;top:711.22px;font-size:13.2px;color:#111;">$</div>
<div class="t r" style="left:318px;top:711.22px;font-size:13.2px;width:100.3px;color:#111;">164,181</div>
<div class="t " style="left:327px;top:729.46px;font-size:13.2px;color:#111;">$</div>
<div class="t r" style="left:318px;top:729.46px;font-size:13.2px;width:100.3px;color:#111;">188,831</div>
<div class="t " style="left:327px;top:747.69px;font-size:13.2px;color:#111;">$</div>
<div class="t r" style="left:318px;top:747.69px;font-size:13.2px;width:100.3px;color:#111;">3,072,440</div>
<div class="t " style="left:503px;top:437.7px;font-size:13.2px;color:#111;">$</div>
<div class="t r" style="left:479.5px;top:437.7px;font-size:13.2px;width:100px;color:#111;">461,562</div>
<div class="t " style="left:503px;top:455.93px;font-size:13.2px;color:#111;">$</div>
<div class="t r" style="left:479.5px;top:455.93px;font-size:13.2px;width:100px;color:#111;">432,118</div>
<div class="t " style="left:503px;top:474.17px;font-size:13.2px;color:#111;">$</div>
<div class="t r" style="left:479.5px;top:474.17px;font-size:13.2px;width:100px;color:#111;">160,238</div>
<div class="t " style="left:503px;top:492.4px;font-size:13.2px;color:#111;">$</div>
<div class="t r" style="left:479.5px;top:492.4px;font-size:13.2px;width:100px;color:#111;">1,053,918</div>
<div class="t " style="left:503px;top:528.87px;font-size:13.2px;color:#111;">$</div>
<div class="t r" style="left:479.5px;top:528.87px;font-size:13.2px;width:100px;color:#111;">357,088</div>
<div class="t " style="left:503px;top:547.11px;font-size:13.2px;color:#111;">$</div>
<div class="t r" style="left:479.5px;top:547.11px;font-size:13.2px;width:100px;color:#111;">33,486</div>
<div class="t " style="left:503px;top:565.34px;font-size:13.2px;color:#111;">$</div>
<div class="t r" style="left:479.5px;top:565.34px;font-size:13.2px;width:100px;color:#111;">390,574</div>
<div class="t " style="left:503px;top:601.81px;font-size:13.2px;color:#111;">$</div>
<div class="t r" style="left:479.5px;top:601.81px;font-size:13.2px;width:100px;color:#111;">1,453,918</div>
<div class="t " style="left:503px;top:638.28px;font-size:13.2px;color:#111;">$</div>
<div class="t r" style="left:479.5px;top:638.28px;font-size:13.2px;width:100px;color:#111;">287,023</div>
<div class="t " style="left:503px;top:656.52px;font-size:13.2px;color:#111;">$</div>
<div class="t r" style="left:479.5px;top:656.52px;font-size:13.2px;width:100px;color:#111;">33,197</div>
<div class="t " style="left:503px;top:674.75px;font-size:13.2px;color:#111;">$</div>
<div class="t r" style="left:479.5px;top:674.75px;font-size:13.2px;width:100px;color:#111;">32,069</div>
<div class="t " style="left:503px;top:692.99px;font-size:13.2px;color:#111;">$</div>
<div class="t r" style="left:479.5px;top:692.99px;font-size:13.2px;width:100px;color:#111;">22,461</div>
<div class="t " style="left:503px;top:711.22px;font-size:13.2px;color:#111;">$</div>
<div class="t r" style="left:479.5px;top:711.22px;font-size:13.2px;width:100px;color:#111;">21,586</div>
<div class="t " style="left:503px;top:729.46px;font-size:13.2px;color:#111;">$</div>
<div class="t r" style="left:479.5px;top:729.46px;font-size:13.2px;width:100px;color:#111;">28,896</div>
<div class="t " style="left:503px;top:747.69px;font-size:13.2px;color:#111;">$</div>
<div class="t r" style="left:479.5px;top:747.69px;font-size:13.2px;width:100px;color:#111;">425,232</div>
<div class="t " style="left:592.5px;top:492.4px;font-size:13.2px;color:#111;">$</div>
<div class="t r" style="left:569.3px;top:492.4px;font-size:13.2px;width:100px;color:#111;">1,104,521</div>
<div class="t " style="left:592.5px;top:528.87px;font-size:13.2px;color:#111;">$</div>
<div class="t r" style="left:569.3px;top:528.87px;font-size:13.2px;width:100px;color:#111;">311,057</div>
<div class="t " style="left:592.5px;top:547.11px;font-size:13.2px;color:#111;">$</div>
<div class="t r" style="left:569.3px;top:547.11px;font-size:13.2px;width:100px;color:#111;">40,487</div>
<div class="t " style="left:592.5px;top:565.34px;font-size:13.2px;color:#111;">$</div>
<div class="t r" style="left:569.3px;top:565.34px;font-size:13.2px;width:100px;color:#111;">351,544</div>
<div class="t " style="left:592.5px;top:601.81px;font-size:13.2px;color:#111;">$</div>
<div class="t r" style="left:569.3px;top:601.81px;font-size:13.2px;width:100px;color:#111;">1,534,521</div>
<div class="t " style="left:592.5px;top:638.28px;font-size:13.2px;color:#111;">$</div>
<div class="t r" style="left:569.3px;top:638.28px;font-size:13.2px;width:100px;color:#111;">242,748</div>
<div class="t " style="left:592.5px;top:656.52px;font-size:13.2px;color:#111;">$</div>
<div class="t r" style="left:569.3px;top:656.52px;font-size:13.2px;width:100px;color:#111;">23,581</div>
<div class="t " style="left:592.5px;top:674.75px;font-size:13.2px;color:#111;">$</div>
<div class="t r" style="left:569.3px;top:674.75px;font-size:13.2px;width:100px;color:#111;">28,418</div>
<div class="t " style="left:592.5px;top:692.99px;font-size:13.2px;color:#111;">$</div>
<div class="t r" style="left:569.3px;top:692.99px;font-size:13.2px;width:100px;color:#111;">22,196</div>
<div class="t " style="left:592.5px;top:711.22px;font-size:13.2px;color:#111;">$</div>
<div class="t r" style="left:569.3px;top:711.22px;font-size:13.2px;width:100px;color:#111;">28,342</div>
<div class="t " style="left:592.5px;top:729.46px;font-size:13.2px;color:#111;">$</div>
<div class="t r" style="left:569.3px;top:729.46px;font-size:13.2px;width:100px;color:#111;">24,692</div>
<div class="t " style="left:592.5px;top:747.69px;font-size:13.2px;color:#111;">$</div>
<div class="t r" style="left:569.3px;top:747.69px;font-size:13.2px;width:100px;color:#111;">369,977</div>
<div class="t " style="left:682.5px;top:492.4px;font-size:13.2px;color:#111;">$</div>
<div class="t r" style="left:659.3px;top:492.4px;font-size:13.2px;width:100px;color:#111;">1,074,311</div>
<div class="t " style="left:682.5px;top:528.87px;font-size:13.2px;color:#111;">$</div>
<div class="t r" style="left:659.3px;top:528.87px;font-size:13.2px;width:100px;color:#111;">242,316</div>
<div class="t " style="left:682.5px;top:547.11px;font-size:13.2px;color:#111;">$</div>
<div class="t r" style="left:659.3px;top:547.11px;font-size:13.2px;width:100px;color:#111;">27,079</div>
<div class="t " style="left:682.5px;top:565.34px;font-size:13.2px;color:#111;">$</div>
<div class="t r" style="left:659.3px;top:565.34px;font-size:13.2px;width:100px;color:#111;">269,395</div>
<div class="t " style="left:682.5px;top:601.81px;font-size:13.2px;color:#111;">$</div>
<div class="t r" style="left:659.3px;top:601.81px;font-size:13.2px;width:100px;color:#111;">1,375,416</div>
<div class="t " style="left:682.5px;top:638.28px;font-size:13.2px;color:#111;">$</div>
<div class="t r" style="left:659.3px;top:638.28px;font-size:13.2px;width:100px;color:#111;">277,465</div>
<div class="t " style="left:682.5px;top:656.52px;font-size:13.2px;color:#111;">$</div>
<div class="t r" style="left:659.3px;top:656.52px;font-size:13.2px;width:100px;color:#111;">24,730</div>
<div class="t " style="left:682.5px;top:674.75px;font-size:13.2px;color:#111;">$</div>
<div class="t r" style="left:659.3px;top:674.75px;font-size:13.2px;width:100px;color:#111;">24,672</div>
<div class="t " style="left:682.5px;top:692.99px;font-size:13.2px;color:#111;">$</div>
<div class="t r" style="left:659.3px;top:692.99px;font-size:13.2px;width:100px;color:#111;">18,878</div>
<div class="t " style="left:682.5px;top:711.22px;font-size:13.2px;color:#111;">$</div>
<div class="t r" style="left:659.3px;top:711.22px;font-size:13.2px;width:100px;color:#111;">18,754</div>
<div class="t " style="left:682.5px;top:729.46px;font-size:13.2px;color:#111;">$</div>
<div class="t r" style="left:659.3px;top:729.46px;font-size:13.2px;width:100px;color:#111;">19,053</div>
<div class="t " style="left:682.5px;top:747.69px;font-size:13.2px;color:#111;">$</div>
<div class="t r" style="left:659.3px;top:747.69px;font-size:13.2px;width:100px;color:#111;">383,552</div>
<div class="t " style="left:779.5px;top:437.7px;font-size:13.2px;color:#111;">$</div>
<div class="t " style="left:779.5px;top:455.93px;font-size:13.2px;color:#111;">$</div>
<div class="t " style="left:779.5px;top:474.17px;font-size:13.2px;color:#111;">$</div>
<div class="t " style="left:779.5px;top:492.4px;font-size:13.2px;color:#111;">$</div>
<div class="t " style="left:779.5px;top:528.87px;font-size:13.2px;color:#111;">$</div>
<div class="t " style="left:779.5px;top:547.11px;font-size:13.2px;color:#111;">$</div>
<div class="t " style="left:779.5px;top:565.34px;font-size:13.2px;color:#111;">$</div>
<div class="t " style="left:779.5px;top:601.81px;font-size:13.2px;color:#111;">$</div>
<div class="t " style="left:779.5px;top:638.28px;font-size:13.2px;color:#111;">$</div>
<div class="t " style="left:779.5px;top:656.52px;font-size:13.2px;color:#111;">$</div>
<div class="t " style="left:779.5px;top:674.75px;font-size:13.2px;color:#111;">$</div>
<div class="t " style="left:779.5px;top:692.99px;font-size:13.2px;color:#111;">$</div>
<div class="t " style="left:779.5px;top:711.22px;font-size:13.2px;color:#111;">$</div>
<div class="t " style="left:779.5px;top:729.46px;font-size:13.2px;color:#111;">$</div>
<div class="t " style="left:779.5px;top:747.69px;font-size:13.2px;color:#111;">$</div>
<svg class="abs" style="left:424px;top:430px" width="80" height="340" viewBox="424 430 80 340"><polyline points="429,441.9 434.5,438.8 445.4,448.5 451.5,441.9 458.8,448 469.2,438.2" fill="none" stroke="#4f8a2c" stroke-width="2.3" stroke-linejoin="round" stroke-linecap="round"/><path d="M441.59999999999997 448.5L445.4 444.7L449.2 448.5L445.4 452.3Z" fill="#ee3b24"/><circle cx="469.2" cy="438" r="3.0" fill="#3a5a9c"/><polyline points="429.6,457 434.5,456.5 446.6,461.3 451.5,459.5 457.6,466.8 463.7,457.7 469.2,462.5" fill="none" stroke="#4f8a2c" stroke-width="2.3" stroke-linejoin="round" stroke-linecap="round"/><path d="M453.8 466.8L457.6 463.0L461.40000000000003 466.8L457.6 470.6Z" fill="#ee3b24"/><circle cx="434.3" cy="456.3" r="3.0" fill="#3a5a9c"/><polyline points="428.4,474.7 433.3,479 440,475.3 446,485 457,477.8 463.7,483.2 468.5,482" fill="none" stroke="#4f8a2c" stroke-width="2.3" stroke-linejoin="round" stroke-linecap="round"/><path d="M442.2 485L446 481.2L449.8 485L446 488.8Z" fill="#ee3b24"/><circle cx="428.6" cy="474.5" r="3.0" fill="#3a5a9c"/><polyline points="429,493 434.5,492.4 446,497 452,494.2 457.6,497 463.7,494.2 469.2,493.8 474.6,503.9 492.3,503.9" fill="none" stroke="#555" stroke-width="0.9" stroke-linejoin="round" stroke-linecap="round"/><path d="M432.3 492.4L434.5 490.2L436.7 492.4L434.5 494.59999999999997Z" fill="#3a5a9c"/><path d="M472.0 503.9L474.6 501.29999999999995L477.20000000000005 503.9L474.6 506.5Z" fill="#ee3b24"/><path d="M477.79999999999995 503.9L480.4 501.29999999999995L483.0 503.9L480.4 506.5Z" fill="#ee3b24"/><path d="M483.59999999999997 503.9L486.2 501.29999999999995L488.8 503.9L486.2 506.5Z" fill="#ee3b24"/><path d="M489.7 503.9L492.3 501.29999999999995L494.90000000000003 503.9L492.3 506.5Z" fill="#ee3b24"/><polyline points="429,528.9 440.6,536.2 451.5,540.4 457.6,538.6 463,540.4 469.2,537" fill="none" stroke="#efd24f" stroke-width="1.2" stroke-linejoin="round" stroke-linecap="round"/><circle cx="429" cy="528.9" r="2.2" fill="#b8942b"/><path d="M460.2 540.4L463 537.6L465.8 540.4L463 543.1999999999999Z" fill="#b8942b"/><polyline points="428.4,552 434.5,546.5 440.6,556.2 446,556 451.5,552.6 457.6,558.7 463.7,551.4 469.2,555.3" fill="none" stroke="#efd24f" stroke-width="1.2" stroke-linejoin="round" stroke-linecap="round"/><circle cx="434.5" cy="546.5" r="2.2" fill="#b8942b"/><path d="M454.8 558.7L457.6 555.9000000000001L460.40000000000003 558.7L457.6 561.5Z" fill="#b8942b"/><polyline points="429,565.4 440.6,569.4 451.5,570.5 463.7,570.2 468.5,569.4 474.6,577 492.3,577" fill="none" stroke="#efd24f" stroke-width="1.2" stroke-linejoin="round" stroke-linecap="round"/><circle cx="429" cy="565.4" r="2.2" fill="#b8942b"/><path d="M472.0 577L474.6 574.4L477.20000000000005 577L474.6 579.6Z" fill="#b8942b"/><path d="M477.79999999999995 577L480.4 574.4L483.0 577L480.4 579.6Z" fill="#b8942b"/><path d="M483.59999999999997 577L486.2 574.4L488.8 577L486.2 579.6Z" fill="#b8942b"/><path d="M489.7 577L492.3 574.4L494.90000000000003 577L492.3 579.6Z" fill="#b8942b"/><polyline points="428.4,603.1 434.5,601.5 446,606.1 451.5,602.7 457.6,606.5 463.7,603.1 469.2,603.1 474.6,613.4 492.3,613.4" fill="none" stroke="#d9b145" stroke-width="1.2" stroke-linejoin="round" stroke-linecap="round"/><path d="M432.3 601.5L434.5 599.3L436.7 601.5L434.5 603.7Z" fill="#b8942b"/><path d="M472.0 613.4L474.6 610.8L477.20000000000005 613.4L474.6 616.0Z" fill="#b8942b"/><path d="M477.79999999999995 613.4L480.4 610.8L483.0 613.4L480.4 616.0Z" fill="#b8942b"/><path d="M483.59999999999997 613.4L486.2 610.8L488.8 613.4L486.2 616.0Z" fill="#b8942b"/><path d="M489.7 613.4L492.3 610.8L494.90000000000003 613.4L492.3 616.0Z" fill="#b8942b"/><polyline points="428.8,639.6 434.5,647.7 440.2,640.7 451.5,648.5 457.5,644.8 463.2,650.2 469,638" fill="none" stroke="#8797b3" stroke-width="0.9" stroke-linejoin="round" stroke-linecap="round"/><path d="M460.8 650.2L463.2 647.8000000000001L465.59999999999997 650.2L463.2 652.6Z" fill="#c6c6c6"/><circle cx="469" cy="638" r="2.2" fill="#c6c6c6"/><polyline points="428.8,657.5 434.5,668 440.2,666.9 445.8,656.6 457.5,663.6 463.2,660.4 469,668.5" fill="none" stroke="#8797b3" stroke-width="0.9" stroke-linejoin="round" stroke-linecap="round"/><circle cx="445.8" cy="656.6" r="2.2" fill="#c6c6c6"/><path d="M466.6 668.5L469 666.1L471.4 668.5L469 670.9Z" fill="#c6c6c6"/><polyline points="428.8,677.7 440.2,684.2 445.8,674.8 457.5,682.6 463.2,679 469,686.7" fill="none" stroke="#8797b3" stroke-width="0.9" stroke-linejoin="round" stroke-linecap="round"/><circle cx="445.8" cy="674.8" r="2.2" fill="#c6c6c6"/><path d="M466.6 686.7L469 684.3000000000001L471.4 686.7L469 689.1Z" fill="#c6c6c6"/><polyline points="428.8,697.5 434.5,698 440.2,701.3 445.8,692.8 451.5,695.3 457.5,703.4 463.2,698 469,704.8" fill="none" stroke="#8797b3" stroke-width="0.9" stroke-linejoin="round" stroke-linecap="round"/><circle cx="445.8" cy="692.8" r="2.2" fill="#c6c6c6"/><path d="M466.6 704.8L469 702.4L471.4 704.8L469 707.1999999999999Z" fill="#c6c6c6"/><polyline points="428.8,716.7 434.5,711 440.2,718.8 445.8,712.6 457.5,723.2 463.2,719.6 469,723.2" fill="none" stroke="#8797b3" stroke-width="0.9" stroke-linejoin="round" stroke-linecap="round"/><circle cx="434.5" cy="711" r="2.2" fill="#c6c6c6"/><path d="M466.6 723.2L469 720.8000000000001L471.4 723.2L469 725.6Z" fill="#c6c6c6"/><polyline points="428.8,730.8 440.2,738.1 445.8,730.8 452,729.3 457.5,741 463.2,731.8 469,741.5" fill="none" stroke="#8797b3" stroke-width="0.9" stroke-linejoin="round" stroke-linecap="round"/><circle cx="452" cy="729.3" r="2.2" fill="#c6c6c6"/><path d="M455.1 741L457.5 738.6L459.9 741L457.5 743.4Z" fill="#c6c6c6"/><polyline points="428.8,747.5 434.5,750 468.5,749.1 474.7,759.4 492.6,759.4" fill="none" stroke="#33437a" stroke-width="1.0" stroke-linejoin="round" stroke-linecap="round"/><path d="M426.8 747.5L428.8 745.5L430.8 747.5L428.8 749.5Z" fill="#3c5aa6"/><path d="M472.3 759.4L474.7 757.0L477.09999999999997 759.4L474.7 761.8Z" fill="#4472c4"/><path d="M478.3 759.4L480.7 757.0L483.09999999999997 759.4L480.7 761.8Z" fill="#4472c4"/><path d="M484.0 759.4L486.4 757.0L488.79999999999995 759.4L486.4 761.8Z" fill="#4472c4"/><path d="M490.20000000000005 759.4L492.6 757.0L495.0 759.4L492.6 761.8Z" fill="#4472c4"/></svg>
<div class="abs" style="left:115px;top:775.9px;width:700px;height:27.7px;background:linear-gradient(#ededed,#dcdcdc);border-top:1px solid #bcbcbc;border-bottom:1px solid #b8b8b8"></div>
<div class="abs" style="left:118.6px;top:777.2px;width:118px;height:28px;background:#ebebeb;border:1px solid #b4b4b4;border-bottom:none"></div>
<div class="abs" style="left:236.3px;top:775.9px;width:166px;height:29px;background:#fff;border-right:1px solid #b9b9b9"></div>
<div class="t c" style="left:236px;top:785.61px;font-size:14.4px;width:166px;color:#1e6b3a;font-family:'DejaVu Sans','Liberation Sans',sans-serif;letter-spacing:0.45px;-webkit-text-stroke:0.45px #1e6b3a">Income Statement</div>
<svg class="abs" style="left:115px;top:776px" width="420" height="28" viewBox="115 776 420 28"><path d="M143 786.5 L137 792 L143 797.5Z" fill="#c2c2c2"/><path d="M176.5 786.5 L182.5 792 L176.5 797.5Z" fill="#c2c2c2"/><circle cx="456.3" cy="792.4" r="9.5" fill="none" stroke="#555" stroke-width="1.35"/><path d="M450.6 792.4H462M456.3 786.7V798.1" stroke="#505050" stroke-width="1.6"/></svg>
</div></div>
<div class="sh" style="left:523.3px;top:77.5px;width:766.0px;height:424.6px"></div>
<div class="win" style="left:523.3px;top:77.5px;width:766.0px;height:424.6px;border-radius:5px;background:#dcdcdc;border:1.2px solid #ababab">
<div class="page" style="left:-524.5px;top:-78.7px">
<div class="abs" style="left:524px;top:78px;width:770px;height:28.2px;background:#808080;"></div>
<div class="t c b" style="left:525px;top:84.86px;font-size:16px;width:44.799999999999955px;color:#fff;letter-spacing:0.2px">M</div>
<div class="t c b" style="left:569.8px;top:84.86px;font-size:16px;width:45.0px;color:#fff;letter-spacing:0.2px">W</div>
<div class="t c b" style="left:614.8px;top:84.86px;font-size:16px;width:45.0px;color:#fff;letter-spacing:0.2px">L</div>
<div class="t c b" style="left:659.8px;top:84.86px;font-size:16px;width:44.5px;color:#fff;letter-spacing:0.2px">D</div>
<div class="t c b" style="left:704.3px;top:84.86px;font-size:16px;width:165.5px;color:#fff;letter-spacing:0.2px">W%L%D%</div>
<div class="t c b" style="left:869.8px;top:84.86px;font-size:16px;width:166.0px;color:#fff;letter-spacing:0.2px">Avg W%</div>
<div class="t c b" style="left:1035.8px;top:84.86px;font-size:16px;width:165.5px;color:#fff;letter-spacing:0.2px">Avg L%</div>
<div class="t b" style="left:1261.5px;top:84.86px;font-size:16px;color:#fff;">Poi</div>
<div class="abs" style="left:567.8px;top:78px;width:2px;height:28.2px;background:#9a9a9a;"></div>
<div class="abs" style="left:612.8px;top:78px;width:2px;height:28.2px;background:#9a9a9a;"></div>
<div class="abs" style="left:657.8px;top:78px;width:2px;height:28.2px;background:#9a9a9a;"></div>
<div class="abs" style="left:702.3px;top:78px;width:2px;height:28.2px;background:#9a9a9a;"></div>
<div class="abs" style="left:867.8px;top:78px;width:2px;height:28.2px;background:#9a9a9a;"></div>
<div class="abs" style="left:1033.8px;top:78px;width:2px;height:28.2px;background:#9a9a9a;"></div>
<div class="abs" style="left:1199.3px;top:78px;width:2px;height:28.2px;background:#9a9a9a;"></div>
<div class="abs" style="left:524px;top:106.3px;width:770px;height:44.75px;background:#e6e6e6;"></div>
<div class="abs" style="left:703.3px;top:106.3px;width:165.5px;height:44.75px;background:#f4f4f4;"></div>
<div class="t r" style="left:524px;top:122.49px;font-size:15.6px;width:41.59999999999995px;color:#1a1a1a;">52</div>
<div class="t r" style="left:568.8px;top:122.49px;font-size:15.6px;width:41.8px;color:#1a1a1a;">46</div>
<div class="t r" style="left:613.8px;top:122.49px;font-size:15.6px;width:41.8px;color:#1a1a1a;">2</div>
<div class="t r" style="left:658.8px;top:122.49px;font-size:15.6px;width:41.3px;color:#1a1a1a;">4</div>
<div class="abs" style="left:706.0px;top:110.1px;width:140.95px;height:38px;background:#357a21;"></div>
<div class="abs" style="left:846.65px;top:110.1px;width:6.42px;height:38px;background:#e93a27;"></div>
<div class="abs" style="left:852.77px;top:110.1px;width:12.53px;height:38px;background:#f4c243;"></div>
<div class="abs" style="left:871.8px;top:110.1px;width:142.42px;height:38px;background:#357a21;"></div>
<div class="t r" style="left:868.8px;top:122.49px;font-size:15.6px;width:162.8px;color:#111;">88.46</div>
<div class="abs" style="left:1038.2px;top:110.1px;width:5.0px;height:38px;background:#e93a27;"></div>
<div class="t r" style="left:1034.8px;top:122.49px;font-size:15.6px;width:163.0px;color:#1a1a1a;">3.85</div>
<div class="abs" style="left:1204px;top:110.1px;width:100px;height:38px;background:#c9c9c9;"></div>
<div class="abs" style="left:524px;top:150.45px;width:770px;height:1.2px;background:#dadada;"></div>
<div class="abs" style="left:524px;top:151.05px;width:770px;height:44.75px;background:#f5f5f5;"></div>
<div class="abs" style="left:703.3px;top:151.05px;width:165.5px;height:44.75px;background:#fafafa;"></div>
<div class="t r" style="left:524px;top:167.24px;font-size:15.6px;width:41.59999999999995px;color:#1a1a1a;">52</div>
<div class="t r" style="left:568.8px;top:167.24px;font-size:15.6px;width:41.8px;color:#1a1a1a;">45</div>
<div class="t r" style="left:613.8px;top:167.24px;font-size:15.6px;width:41.8px;color:#1a1a1a;">2</div>
<div class="t r" style="left:658.8px;top:167.24px;font-size:15.6px;width:41.3px;color:#1a1a1a;">5</div>
<div class="abs" style="left:706.0px;top:154.85px;width:137.9px;height:38px;background:#357a21;"></div>
<div class="abs" style="left:843.6px;top:154.85px;width:6.42px;height:38px;background:#e93a27;"></div>
<div class="abs" style="left:849.71px;top:154.85px;width:15.59px;height:38px;background:#f4c243;"></div>
<div class="abs" style="left:871.8px;top:154.85px;width:139.33px;height:38px;background:#357a21;"></div>
<div class="t r" style="left:868.8px;top:167.24px;font-size:15.6px;width:162.8px;color:#111;">86.54</div>
<div class="abs" style="left:1038.2px;top:154.85px;width:5.0px;height:38px;background:#e93a27;"></div>
<div class="t r" style="left:1034.8px;top:167.24px;font-size:15.6px;width:163.0px;color:#1a1a1a;">3.85</div>
<div class="abs" style="left:1204px;top:154.85px;width:100px;height:38px;background:#c9c9c9;"></div>
<div class="abs" style="left:524px;top:195.2px;width:770px;height:1.2px;background:#dadada;"></div>
<div class="abs" style="left:524px;top:195.8px;width:770px;height:44.75px;background:#e6e6e6;"></div>
<div class="abs" style="left:703.3px;top:195.8px;width:165.5px;height:44.75px;background:#f4f4f4;"></div>
<div class="t r" style="left:524px;top:211.99px;font-size:15.6px;width:41.59999999999995px;color:#1a1a1a;">52</div>
<div class="t r" style="left:568.8px;top:211.99px;font-size:15.6px;width:41.8px;color:#1a1a1a;">43</div>
<div class="t r" style="left:613.8px;top:211.99px;font-size:15.6px;width:41.8px;color:#1a1a1a;">3</div>
<div class="t r" style="left:658.8px;top:211.99px;font-size:15.6px;width:41.3px;color:#1a1a1a;">6</div>
<div class="abs" style="left:706.0px;top:199.6px;width:131.78px;height:38px;background:#357a21;"></div>
<div class="abs" style="left:837.48px;top:199.6px;width:9.47px;height:38px;background:#e93a27;"></div>
<div class="abs" style="left:846.65px;top:199.6px;width:18.65px;height:38px;background:#f4c243;"></div>
<div class="abs" style="left:871.8px;top:199.6px;width:133.13px;height:38px;background:#357a21;"></div>
<div class="t r" style="left:868.8px;top:211.99px;font-size:15.6px;width:162.8px;color:#111;">82.69</div>
<div class="abs" style="left:1038.2px;top:199.6px;width:7.5px;height:38px;background:#e93a27;"></div>
<div class="t r" style="left:1034.8px;top:211.99px;font-size:15.6px;width:163.0px;color:#1a1a1a;">5.77</div>
<div class="abs" style="left:1204px;top:199.6px;width:100px;height:38px;background:#c9c9c9;"></div>
<div class="abs" style="left:524px;top:239.95px;width:770px;height:1.2px;background:#dadada;"></div>
<div class="abs" style="left:524px;top:240.55px;width:770px;height:44.75px;background:#f5f5f5;"></div>
<div class="abs" style="left:703.3px;top:240.55px;width:165.5px;height:44.75px;background:#fafafa;"></div>
<div class="t r" style="left:524px;top:256.74px;font-size:15.6px;width:41.59999999999995px;color:#1a1a1a;">52</div>
<div class="t r" style="left:568.8px;top:256.74px;font-size:15.6px;width:41.8px;color:#1a1a1a;">42</div>
<div class="t r" style="left:613.8px;top:256.74px;font-size:15.6px;width:41.8px;color:#1a1a1a;">3</div>
<div class="t r" style="left:658.8px;top:256.74px;font-size:15.6px;width:41.3px;color:#1a1a1a;">7</div>
<div class="abs" style="left:706.0px;top:244.35px;width:128.72px;height:38px;background:#357a21;"></div>
<div class="abs" style="left:834.42px;top:244.35px;width:9.47px;height:38px;background:#e93a27;"></div>
<div class="abs" style="left:843.6px;top:244.35px;width:21.7px;height:38px;background:#f4c243;"></div>
<div class="abs" style="left:871.8px;top:244.35px;width:130.04px;height:38px;background:#357a21;"></div>
<div class="t r" style="left:868.8px;top:256.74px;font-size:15.6px;width:162.8px;color:#111;">80.77</div>
<div class="abs" style="left:1038.2px;top:244.35px;width:7.5px;height:38px;background:#e93a27;"></div>
<div class="t r" style="left:1034.8px;top:256.74px;font-size:15.6px;width:163.0px;color:#1a1a1a;">5.77</div>
<div class="abs" style="left:1204px;top:244.35px;width:100px;height:38px;background:#c9c9c9;"></div>
<div class="abs" style="left:524px;top:284.7px;width:770px;height:1.2px;background:#dadada;"></div>
<div class="abs" style="left:524px;top:285.3px;width:770px;height:44.75px;background:#e6e6e6;"></div>
<div class="abs" style="left:703.3px;top:285.3px;width:165.5px;height:44.75px;background:#f4f4f4;"></div>
<div class="t r" style="left:524px;top:301.49px;font-size:15.6px;width:41.59999999999995px;color:#1a1a1a;">52</div>
<div class="t r" style="left:568.8px;top:301.49px;font-size:15.6px;width:41.8px;color:#1a1a1a;">41</div>
<div class="t r" style="left:613.8px;top:301.49px;font-size:15.6px;width:41.8px;color:#1a1a1a;">4</div>
<div class="t r" style="left:658.8px;top:301.49px;font-size:15.6px;width:41.3px;color:#1a1a1a;">7</div>
<div class="abs" style="left:706.0px;top:289.1px;width:125.67px;height:38px;background:#357a21;"></div>
<div class="abs" style="left:831.37px;top:289.1px;width:12.53px;height:38px;background:#e93a27;"></div>
<div class="abs" style="left:843.6px;top:289.1px;width:21.7px;height:38px;background:#f4c243;"></div>
<div class="abs" style="left:871.8px;top:289.1px;width:126.94px;height:38px;background:#357a21;"></div>
<div class="t r" style="left:868.8px;top:301.49px;font-size:15.6px;width:162.8px;color:#111;">78.85</div>
<div class="abs" style="left:1038.2px;top:289.1px;width:10.0px;height:38px;background:#e93a27;"></div>
<div class="t r" style="left:1034.8px;top:301.49px;font-size:15.6px;width:163.0px;color:#1a1a1a;">7.69</div>
<div class="abs" style="left:1204px;top:289.1px;width:100px;height:38px;background:#c9c9c9;"></div>
<div class="abs" style="left:524px;top:329.45px;width:770px;height:1.2px;background:#dadada;"></div>
<div class="abs" style="left:524px;top:330.05px;width:770px;height:44.75px;background:#f5f5f5;"></div>
<div class="abs" style="left:703.3px;top:330.05px;width:165.5px;height:44.75px;background:#fafafa;"></div>
<div class="t r" style="left:524px;top:346.24px;font-size:15.6px;width:41.59999999999995px;color:#1a1a1a;">52</div>
<div class="t r" style="left:568.8px;top:346.24px;font-size:15.6px;width:41.8px;color:#1a1a1a;">39</div>
<div class="t r" style="left:613.8px;top:346.24px;font-size:15.6px;width:41.8px;color:#1a1a1a;">5</div>
<div class="t r" style="left:658.8px;top:346.24px;font-size:15.6px;width:41.3px;color:#1a1a1a;">8</div>
<div class="abs" style="left:706.0px;top:333.85px;width:119.55px;height:38px;background:#357a21;"></div>
<div class="abs" style="left:825.25px;top:333.85px;width:15.59px;height:38px;background:#e93a27;"></div>
<div class="abs" style="left:840.54px;top:333.85px;width:24.76px;height:38px;background:#f4c243;"></div>
<div class="abs" style="left:871.8px;top:333.85px;width:120.75px;height:38px;background:#357a21;"></div>
<div class="t r" style="left:868.8px;top:346.24px;font-size:15.6px;width:162.8px;color:#111;">75.00</div>
<div class="abs" style="left:1038.2px;top:333.85px;width:12.5px;height:38px;background:#e93a27;"></div>
<div class="t r" style="left:1034.8px;top:346.24px;font-size:15.6px;width:163.0px;color:#1a1a1a;">9.62</div>
<div class="abs" style="left:1204px;top:333.85px;width:100px;height:38px;background:#c9c9c9;"></div>
<div class="abs" style="left:524px;top:374.2px;width:770px;height:1.2px;background:#dadada;"></div>
<div class="abs" style="left:524px;top:374.8px;width:770px;height:44.75px;background:#e6e6e6;"></div>
<div class="abs" style="left:703.3px;top:374.8px;width:165.5px;height:44.75px;background:#f4f4f4;"></div>
<div class="t r" style="left:524px;top:390.99px;font-size:15.6px;width:41.59999999999995px;color:#1a1a1a;">52</div>
<div class="t r" style="left:568.8px;top:390.99px;font-size:15.6px;width:41.8px;color:#1a1a1a;">20</div>
<div class="t r" style="left:613.8px;top:390.99px;font-size:15.6px;width:41.8px;color:#1a1a1a;">28</div>
<div class="t r" style="left:658.8px;top:390.99px;font-size:15.6px;width:41.3px;color:#1a1a1a;">4</div>
<div class="abs" style="left:706.0px;top:378.6px;width:61.45px;height:38px;background:#357a21;"></div>
<div class="abs" style="left:767.15px;top:378.6px;width:85.92px;height:38px;background:#e93a27;"></div>
<div class="abs" style="left:852.77px;top:378.6px;width:12.53px;height:38px;background:#f4c243;"></div>
<div class="abs" style="left:871.8px;top:378.6px;width:61.92px;height:38px;background:#357a21;"></div>
<div class="t r" style="left:868.8px;top:390.99px;font-size:15.6px;width:162.8px;color:#111;">38.46</div>
<div class="abs" style="left:1038.2px;top:378.6px;width:70.0px;height:38px;background:#e93a27;"></div>
<div class="t r" style="left:1034.8px;top:390.99px;font-size:15.6px;width:163.0px;color:#1a1a1a;">53.85</div>
<div class="abs" style="left:1204px;top:378.6px;width:100px;height:38px;background:#c9c9c9;"></div>
<div class="abs" style="left:524px;top:418.95px;width:770px;height:1.2px;background:#dadada;"></div>
<div class="abs" style="left:524px;top:419.55px;width:770px;height:44.75px;background:#f5f5f5;"></div>
<div class="abs" style="left:703.3px;top:419.55px;width:165.5px;height:44.75px;background:#fafafa;"></div>
<div class="t r" style="left:524px;top:435.74px;font-size:15.6px;width:41.59999999999995px;color:#1a1a1a;">52</div>
<div class="t r" style="left:568.8px;top:435.74px;font-size:15.6px;width:41.8px;color:#1a1a1a;">19</div>
<div class="t r" style="left:613.8px;top:435.74px;font-size:15.6px;width:41.8px;color:#1a1a1a;">28</div>
<div class="t r" style="left:658.8px;top:435.74px;font-size:15.6px;width:41.3px;color:#1a1a1a;">5</div>
<div class="abs" style="left:706.0px;top:423.35px;width:58.4px;height:38px;background:#357a21;"></div>
<div class="abs" style="left:764.1px;top:423.35px;width:85.92px;height:38px;background:#e93a27;"></div>
<div class="abs" style="left:849.71px;top:423.35px;width:15.59px;height:38px;background:#f4c243;"></div>
<div class="abs" style="left:871.8px;top:423.35px;width:58.83px;height:38px;background:#357a21;"></div>
<div class="t r" style="left:868.8px;top:435.74px;font-size:15.6px;width:162.8px;color:#111;">36.54</div>
<div class="abs" style="left:1038.2px;top:423.35px;width:70.0px;height:38px;background:#e93a27;"></div>
<div class="t r" style="left:1034.8px;top:435.74px;font-size:15.6px;width:163.0px;color:#1a1a1a;">53.85</div>
<div class="abs" style="left:1204px;top:423.35px;width:100px;height:38px;background:#c9c9c9;"></div>
<div class="abs" style="left:524px;top:463.7px;width:770px;height:1.2px;background:#dadada;"></div>
<div class="abs" style="left:524px;top:464.3px;width:770px;height:44.75px;background:#e6e6e6;"></div>
<div class="abs" style="left:703.3px;top:464.3px;width:165.5px;height:44.75px;background:#f4f4f4;"></div>
<div class="t r" style="left:524px;top:480.49px;font-size:15.6px;width:41.59999999999995px;color:#1a1a1a;">52</div>
<div class="t r" style="left:568.8px;top:480.49px;font-size:15.6px;width:41.8px;color:#1a1a1a;">18</div>
<div class="t r" style="left:613.8px;top:480.49px;font-size:15.6px;width:41.8px;color:#1a1a1a;">26</div>
<div class="t r" style="left:658.8px;top:480.49px;font-size:15.6px;width:41.3px;color:#1a1a1a;">8</div>
<div class="abs" style="left:706.0px;top:468.1px;width:55.34px;height:38px;background:#357a21;"></div>
<div class="abs" style="left:761.04px;top:468.1px;width:79.8px;height:38px;background:#e93a27;"></div>
<div class="abs" style="left:840.54px;top:468.1px;width:24.76px;height:38px;background:#f4c243;"></div>
<div class="abs" style="left:871.8px;top:468.1px;width:55.73px;height:38px;background:#357a21;"></div>
<div class="t r" style="left:868.8px;top:480.49px;font-size:15.6px;width:162.8px;color:#111;">34.62</div>
<div class="abs" style="left:1038.2px;top:468.1px;width:65.0px;height:38px;background:#e93a27;"></div>
<div class="t r" style="left:1034.8px;top:480.49px;font-size:15.6px;width:163.0px;color:#1a1a1a;">50.00</div>
<div class="abs" style="left:1204px;top:468.1px;width:100px;height:38px;background:#c9c9c9;"></div>
<div class="abs" style="left:524px;top:508.45px;width:770px;height:1.2px;background:#dadada;"></div>
<div class="abs" style="left:524px;top:509.05px;width:770px;height:44.75px;background:#f5f5f5;"></div>
<div class="abs" style="left:703.3px;top:509.05px;width:165.5px;height:44.75px;background:#fafafa;"></div>
<div class="t r" style="left:524px;top:525.24px;font-size:15.6px;width:41.59999999999995px;color:#1a1a1a;">52</div>
<div class="t r" style="left:568.8px;top:525.24px;font-size:15.6px;width:41.8px;color:#1a1a1a;">17</div>
<div class="t r" style="left:613.8px;top:525.24px;font-size:15.6px;width:41.8px;color:#1a1a1a;">27</div>
<div class="t r" style="left:658.8px;top:525.24px;font-size:15.6px;width:41.3px;color:#1a1a1a;">8</div>
<div class="abs" style="left:706.0px;top:512.85px;width:52.28px;height:38px;background:#357a21;"></div>
<div class="abs" style="left:757.98px;top:512.85px;width:82.86px;height:38px;background:#e93a27;"></div>
<div class="abs" style="left:840.54px;top:512.85px;width:24.76px;height:38px;background:#f4c243;"></div>
<div class="abs" style="left:871.8px;top:512.85px;width:52.63px;height:38px;background:#357a21;"></div>
<div class="t r" style="left:868.8px;top:525.24px;font-size:15.6px;width:162.8px;color:#111;">32.69</div>
<div class="abs" style="left:1038.2px;top:512.85px;width:67.5px;height:38px;background:#e93a27;"></div>
<div class="t r" style="left:1034.8px;top:525.24px;font-size:15.6px;width:163.0px;color:#1a1a1a;">51.92</div>
<div class="abs" style="left:1204px;top:512.85px;width:100px;height:38px;background:#c9c9c9;"></div>
<div class="abs" style="left:524px;top:553.2px;width:770px;height:1.2px;background:#dadada;"></div>
<div class="abs" style="left:568.0999999999999px;top:106.3px;width:1.4px;height:400px;background:#d6d6d6;"></div>
<div class="abs" style="left:613.0999999999999px;top:106.3px;width:1.4px;height:400px;background:#d6d6d6;"></div>
<div class="abs" style="left:658.0999999999999px;top:106.3px;width:1.4px;height:400px;background:#d6d6d6;"></div>
<div class="abs" style="left:702.5999999999999px;top:106.3px;width:1.4px;height:400px;background:#d6d6d6;"></div>
<div class="abs" style="left:868.0999999999999px;top:106.3px;width:1.4px;height:400px;background:#d6d6d6;"></div>
<div class="abs" style="left:1034.1px;top:106.3px;width:1.4px;height:400px;background:#d6d6d6;"></div>
<div class="abs" style="left:1199.6px;top:106.3px;width:1.4px;height:400px;background:#d6d6d6;"></div>
</div></div>
<svg class="abs" style="left:760px;top:270px" width="702" height="350" viewBox="760 270 702 350"><path d="M1462 278 L791 278 Q769.5 278 774.6 297 L805.6 377 Q808 384 808 392 L808 508 Q808 516 805.5 522 L776 594 Q770 613.8 790 613.8 L1462 613.8 Z" fill="#643c6d"/></svg>
<div class="t b" style="left:908.1px;top:336.2px;font-size:28px;color:#fff;transform:scaleX(1.0881);transform-origin:0 0;">Trying to Programmatically</div>
<div class="t b" style="left:908.1px;top:380.2px;font-size:28px;color:#fff;transform:scaleX(1.0819);transform-origin:0 0;">Integrate Spreadsheets into</div>
<div class="t b" style="left:908.1px;top:424.2px;font-size:28px;color:#fff;transform:scaleX(1.0622);transform-origin:0 0;">Desktop Apps?</div>
<div class="t " style="left:908.1px;top:484.1px;font-size:28px;color:#fff;transform:scaleX(1.1033);transform-origin:0 0;">Check out our</div>
<div class="t " style="left:908.1px;top:527.7px;font-size:28px;color:#fff;transform:scaleX(1.0570);transform-origin:0 0;text-decoration:underline;text-decoration-thickness:1.3px;text-underline-offset:3.2px;">.NET Excel Spreadsheet API Library</div>
</body></html>
